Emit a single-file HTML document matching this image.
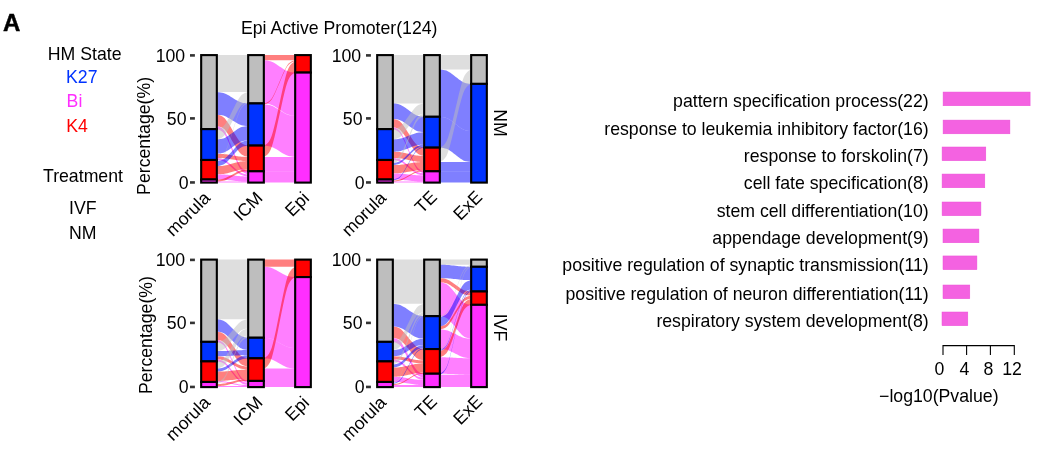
<!DOCTYPE html>
<html><head><meta charset="utf-8"><style>
html,body{margin:0;padding:0;background:#fff;width:1055px;height:449px;overflow:hidden}
svg{display:block;will-change:transform}
text{font-family:"Liberation Sans", sans-serif;fill:#000}
</style></head><body>
<svg width="1055" height="449" viewBox="0 0 1055 449">

<text x="2.9" y="30.6" font-size="24" font-weight="bold" style="stroke:#000;stroke-width:0.45">A</text>
<text x="339.2" y="33.7" text-anchor="middle" font-size="17.7">Epi Active Promoter(124)</text>
<text x="47.8" y="60.2" font-size="17.7">HM State</text>
<text x="66" y="82.5" font-size="17.7" style="fill:#0033ff">K27</text>
<text x="66.6" y="107" font-size="17.7" style="fill:#ff2eff">Bi</text>
<text x="66.2" y="132.3" font-size="17.7" style="fill:#ff0000">K4</text>
<text x="43" y="181.8" font-size="17.7">Treatment</text>
<text x="69" y="213.6" font-size="17.7">IVF</text>
<text x="69" y="238.8" font-size="17.7">NM</text>

<path d="M216.8,55.1L216.9,55.1L217.6,55.1L218.9,55.1L220.5,55.1L222.0,55.1L223.4,55.1L224.7,55.1L226.0,55.1L227.4,55.1L229.0,55.1L230.7,55.1L232.5,55.1L234.3,55.1L236.0,55.1L237.6,55.1L239.0,55.1L240.3,55.1L241.6,55.1L243.0,55.1L244.5,55.1L246.1,55.1L247.4,55.1L248.1,55.1L248.2,55.1L248.2,92.1L248.1,92.1L247.4,92.1L246.1,92.1L244.5,92.1L243.0,92.1L241.6,92.1L240.3,92.1L239.0,92.1L237.6,92.1L236.0,92.1L234.3,92.1L232.5,92.1L230.7,92.1L229.0,92.1L227.4,92.1L226.0,92.1L224.7,92.1L223.4,92.1L222.0,92.1L220.5,92.1L218.9,92.1L217.6,92.1L216.9,92.1L216.8,92.1Z" fill="#bebebe" fill-opacity="0.5"/>
<path d="M216.8,92.1L216.9,92.1L217.6,92.2L218.9,92.3L220.5,92.4L222.0,92.7L223.4,93.0L224.7,93.4L226.0,94.0L227.4,94.7L229.0,95.6L230.7,96.7L232.5,97.8L234.3,98.9L236.0,99.9L237.6,100.8L239.0,101.5L240.3,102.1L241.6,102.5L243.0,102.9L244.5,103.1L246.1,103.3L247.4,103.4L248.1,103.4L248.2,103.4L248.2,126.0L248.1,126.0L247.4,126.0L246.1,125.9L244.5,125.7L243.0,125.5L241.6,125.2L240.3,124.7L239.0,124.2L237.6,123.4L236.0,122.5L234.3,121.5L232.5,120.4L230.7,119.3L229.0,118.2L227.4,117.4L226.0,116.6L224.7,116.1L223.4,115.6L222.0,115.3L220.5,115.1L218.9,114.9L217.6,114.8L216.9,114.7L216.8,114.7Z" fill="#0000ff" fill-opacity="0.5"/>
<path d="M216.8,114.7L216.9,114.8L217.6,114.9L218.9,115.1L220.5,115.6L222.0,116.3L223.4,117.2L224.7,118.3L226.0,119.9L227.4,121.9L229.0,124.3L230.7,127.1L232.5,130.2L234.3,133.2L236.0,136.0L237.6,138.5L239.0,140.4L240.3,142.0L241.6,143.2L243.0,144.0L244.5,144.7L246.1,145.2L247.4,145.5L248.1,145.6L248.2,145.6L248.2,156.9L248.1,156.9L247.4,156.8L246.1,156.5L244.5,156.0L243.0,155.3L241.6,154.5L240.3,153.3L239.0,151.8L237.6,149.8L236.0,147.3L234.3,144.5L232.5,141.5L230.7,138.4L229.0,135.6L227.4,133.2L226.0,131.2L224.7,129.6L223.4,128.5L222.0,127.6L220.5,126.9L218.9,126.5L217.6,126.2L216.9,126.1L216.8,126.0Z" fill="#ff0000" fill-opacity="0.5"/>
<path d="M216.8,126.0L216.9,126.1L217.6,126.2L218.9,126.6L220.5,127.3L222.0,128.3L223.4,129.6L224.7,131.3L226.0,133.6L227.4,136.5L229.0,140.1L230.7,144.2L232.5,148.7L234.3,153.1L236.0,157.3L237.6,160.8L239.0,163.7L240.3,166.0L241.6,167.7L243.0,169.0L244.5,170.0L246.1,170.7L247.4,171.1L248.1,171.3L248.2,171.3L248.2,174.4L248.1,174.4L247.4,174.2L246.1,173.8L244.5,173.1L243.0,172.1L241.6,170.8L240.3,169.1L239.0,166.8L237.6,163.9L236.0,160.3L234.3,156.2L232.5,151.8L230.7,147.3L229.0,143.2L227.4,139.6L226.0,136.7L224.7,134.4L223.4,132.7L222.0,131.4L220.5,130.4L218.9,129.7L217.6,129.3L216.9,129.2L216.8,129.1Z" fill="#ff00ff" fill-opacity="0.5"/>
<path d="M216.8,129.1L216.9,129.1L217.6,129.0L218.9,128.6L220.5,128.1L222.0,127.3L223.4,126.2L224.7,124.8L226.0,123.0L227.4,120.6L229.0,117.7L230.7,114.3L232.5,110.6L234.3,107.0L236.0,103.6L237.6,100.7L239.0,98.3L240.3,96.4L241.6,95.0L243.0,94.0L244.5,93.2L246.1,92.6L247.4,92.3L248.1,92.1L248.2,92.1L248.2,102.4L248.1,102.4L247.4,102.6L246.1,102.9L244.5,103.5L243.0,104.3L241.6,105.3L240.3,106.7L239.0,108.6L237.6,111.0L236.0,113.9L234.3,117.3L232.5,120.9L230.7,124.6L229.0,127.9L227.4,130.9L226.0,133.2L224.7,135.1L223.4,136.5L222.0,137.6L220.5,138.4L218.9,138.9L217.6,139.3L216.9,139.4L216.8,139.4Z" fill="#bebebe" fill-opacity="0.5"/>
<path d="M216.8,139.4L216.9,139.4L217.6,139.4L218.9,139.2L220.5,139.0L222.0,138.7L223.4,138.4L224.7,137.9L226.0,137.2L227.4,136.3L229.0,135.3L230.7,134.0L232.5,132.7L234.3,131.4L236.0,130.2L237.6,129.1L239.0,128.3L240.3,127.6L241.6,127.1L243.0,126.7L244.5,126.4L246.1,126.2L247.4,126.1L248.1,126.1L248.2,126.0L248.2,140.4L248.1,140.4L247.4,140.5L246.1,140.6L244.5,140.8L243.0,141.1L241.6,141.5L240.3,142.0L239.0,142.7L237.6,143.5L236.0,144.6L234.3,145.8L232.5,147.1L230.7,148.4L229.0,149.7L227.4,150.7L226.0,151.6L224.7,152.3L223.4,152.8L222.0,153.1L220.5,153.4L218.9,153.6L217.6,153.8L216.9,153.8L216.8,153.8Z" fill="#0000ff" fill-opacity="0.5"/>
<path d="M216.8,153.8L216.9,153.8L217.6,153.8L218.9,153.9L220.5,153.9L222.0,154.0L223.4,154.1L224.7,154.2L226.0,154.3L227.4,154.5L229.0,154.8L230.7,155.0L232.5,155.4L234.3,155.7L236.0,155.9L237.6,156.2L239.0,156.4L240.3,156.5L241.6,156.7L243.0,156.7L244.5,156.8L246.1,156.9L247.4,156.9L248.1,156.9L248.2,156.9L248.2,161.0L248.1,161.0L247.4,161.0L246.1,161.0L244.5,160.9L243.0,160.9L241.6,160.8L240.3,160.6L239.0,160.5L237.6,160.3L236.0,160.1L234.3,159.8L232.5,159.5L230.7,159.2L229.0,158.9L227.4,158.6L226.0,158.4L224.7,158.3L223.4,158.2L222.0,158.1L220.5,158.0L218.9,158.0L217.6,157.9L216.9,157.9L216.8,157.9Z" fill="#ff0000" fill-opacity="0.5"/>
<path d="M216.8,157.9L216.9,157.9L217.6,158.0L218.9,158.1L220.5,158.4L222.0,158.7L223.4,159.2L224.7,159.8L226.0,160.7L227.4,161.7L229.0,163.0L230.7,164.5L232.5,166.1L234.3,167.8L236.0,169.3L237.6,170.6L239.0,171.6L240.3,172.5L241.6,173.1L243.0,173.5L244.5,173.9L246.1,174.2L247.4,174.3L248.1,174.4L248.2,174.4L248.2,176.4L248.1,176.4L247.4,176.4L246.1,176.2L244.5,176.0L243.0,175.6L241.6,175.1L240.3,174.5L239.0,173.7L237.6,172.6L236.0,171.3L234.3,169.8L232.5,168.2L230.7,166.6L229.0,165.1L227.4,163.8L226.0,162.7L224.7,161.9L223.4,161.3L222.0,160.8L220.5,160.5L218.9,160.2L217.6,160.0L216.9,160.0L216.8,160.0Z" fill="#ff00ff" fill-opacity="0.5"/>
<path d="M216.8,160.0L216.9,159.9L217.6,159.7L218.9,159.2L220.5,158.3L222.0,157.1L223.4,155.5L224.7,153.3L226.0,150.4L227.4,146.7L229.0,142.1L230.7,136.9L232.5,131.2L234.3,125.5L236.0,120.3L237.6,115.7L239.0,112.0L240.3,109.1L241.6,106.9L243.0,105.3L244.5,104.1L246.1,103.2L247.4,102.6L248.1,102.4L248.2,102.4L248.2,103.4L248.1,103.5L247.4,103.7L246.1,104.2L244.5,105.1L243.0,106.3L241.6,108.0L240.3,110.1L239.0,113.0L237.6,116.7L236.0,121.3L234.3,126.5L232.5,132.2L230.7,137.9L229.0,143.2L227.4,147.7L226.0,151.4L224.7,154.3L223.4,156.5L222.0,158.1L220.5,159.4L218.9,160.2L217.6,160.8L216.9,161.0L216.8,161.0Z" fill="#bebebe" fill-opacity="0.5"/>
<path d="M216.8,161.0L216.9,161.0L217.6,160.9L218.9,160.7L220.5,160.4L222.0,160.0L223.4,159.4L224.7,158.6L226.0,157.6L227.4,156.3L229.0,154.6L230.7,152.8L232.5,150.7L234.3,148.7L236.0,146.8L237.6,145.2L239.0,143.9L240.3,142.8L241.6,142.1L243.0,141.5L244.5,141.0L246.1,140.7L247.4,140.5L248.1,140.5L248.2,140.4L248.2,145.6L248.1,145.6L247.4,145.7L246.1,145.9L244.5,146.2L243.0,146.6L241.6,147.2L240.3,148.0L239.0,149.0L237.6,150.3L236.0,152.0L234.3,153.8L232.5,155.9L230.7,157.9L229.0,159.8L227.4,161.4L226.0,162.7L224.7,163.8L223.4,164.5L222.0,165.1L220.5,165.6L218.9,165.9L217.6,166.1L216.9,166.1L216.8,166.1Z" fill="#0000ff" fill-opacity="0.5"/>
<path d="M216.8,166.1L216.9,166.1L217.6,166.1L218.9,166.1L220.5,166.0L222.0,165.9L223.4,165.7L224.7,165.6L226.0,165.3L227.4,165.0L229.0,164.6L230.7,164.1L232.5,163.6L234.3,163.1L236.0,162.6L237.6,162.2L239.0,161.9L240.3,161.6L241.6,161.4L243.0,161.3L244.5,161.2L246.1,161.1L247.4,161.0L248.1,161.0L248.2,161.0L248.2,169.2L248.1,169.2L247.4,169.3L246.1,169.3L244.5,169.4L243.0,169.5L241.6,169.6L240.3,169.8L239.0,170.1L237.6,170.4L236.0,170.8L234.3,171.3L232.5,171.8L230.7,172.3L229.0,172.8L227.4,173.2L226.0,173.5L224.7,173.8L223.4,174.0L222.0,174.1L220.5,174.2L218.9,174.3L217.6,174.4L216.9,174.4L216.8,174.4Z" fill="#ff0000" fill-opacity="0.5"/>
<path d="M216.8,174.4L216.9,174.4L217.6,174.4L218.9,174.4L220.5,174.4L222.0,174.5L223.4,174.5L224.7,174.6L226.0,174.7L227.4,174.8L229.0,175.0L230.7,175.2L232.5,175.4L234.3,175.6L236.0,175.8L237.6,176.0L239.0,176.1L240.3,176.2L241.6,176.3L243.0,176.3L244.5,176.4L246.1,176.4L247.4,176.4L248.1,176.4L248.2,176.4L248.2,181.6L248.1,181.6L247.4,181.6L246.1,181.5L244.5,181.5L243.0,181.5L241.6,181.4L240.3,181.3L239.0,181.2L237.6,181.1L236.0,180.9L234.3,180.7L232.5,180.5L230.7,180.3L229.0,180.2L227.4,180.0L226.0,179.9L224.7,179.8L223.4,179.7L222.0,179.6L220.5,179.6L218.9,179.5L217.6,179.5L216.9,179.5L216.8,179.5Z" fill="#ff00ff" fill-opacity="0.5"/>
<path d="M216.8,179.5L216.9,179.5L217.6,179.5L218.9,179.4L220.5,179.2L222.0,179.0L223.4,178.7L224.7,178.3L226.0,177.8L227.4,177.1L229.0,176.3L230.7,175.4L232.5,174.4L234.3,173.4L236.0,172.4L237.6,171.6L239.0,170.9L240.3,170.4L241.6,170.0L243.0,169.7L244.5,169.5L246.1,169.4L247.4,169.3L248.1,169.2L248.2,169.2L248.2,171.3L248.1,171.3L247.4,171.3L246.1,171.4L244.5,171.6L243.0,171.8L241.6,172.1L240.3,172.5L239.0,173.0L237.6,173.7L236.0,174.5L234.3,175.4L232.5,176.4L230.7,177.4L229.0,178.4L227.4,179.2L226.0,179.9L224.7,180.4L223.4,180.8L222.0,181.1L220.5,181.3L218.9,181.4L217.6,181.5L216.9,181.6L216.8,181.6Z" fill="#ff0000" fill-opacity="0.5"/>
<path d="M216.8,181.6L216.9,181.6L217.6,181.6L218.9,181.6L220.5,181.6L222.0,181.6L223.4,181.6L224.7,181.6L226.0,181.6L227.4,181.6L229.0,181.6L230.7,181.6L232.5,181.6L234.3,181.6L236.0,181.6L237.6,181.6L239.0,181.6L240.3,181.6L241.6,181.6L243.0,181.6L244.5,181.6L246.1,181.6L247.4,181.6L248.1,181.6L248.2,181.6L248.2,182.6L248.1,182.6L247.4,182.6L246.1,182.6L244.5,182.6L243.0,182.6L241.6,182.6L240.3,182.6L239.0,182.6L237.6,182.6L236.0,182.6L234.3,182.6L232.5,182.6L230.7,182.6L229.0,182.6L227.4,182.6L226.0,182.6L224.7,182.6L223.4,182.6L222.0,182.6L220.5,182.6L218.9,182.6L217.6,182.6L216.9,182.6L216.8,182.6Z" fill="#ff00ff" fill-opacity="0.5"/>
<path d="M263.8,55.1L263.9,55.1L264.6,55.1L265.9,55.1L267.5,55.1L269.0,55.1L270.4,55.1L271.7,55.1L273.0,55.1L274.4,55.1L276.0,55.1L277.7,55.1L279.5,55.1L281.3,55.1L283.0,55.1L284.6,55.1L286.0,55.1L287.3,55.1L288.6,55.1L290.0,55.1L291.5,55.1L293.1,55.1L294.4,55.1L295.1,55.1L295.2,55.1L295.2,60.2L295.1,60.2L294.4,60.2L293.1,60.2L291.5,60.2L290.0,60.2L288.6,60.2L287.3,60.2L286.0,60.2L284.6,60.2L283.0,60.2L281.3,60.2L279.5,60.2L277.7,60.2L276.0,60.2L274.4,60.2L273.0,60.2L271.7,60.2L270.4,60.2L269.0,60.2L267.5,60.2L265.9,60.2L264.6,60.2L263.9,60.2L263.8,60.2Z" fill="#ff0000" fill-opacity="0.5"/>
<path d="M263.8,60.2L263.9,60.2L264.6,60.3L265.9,60.4L267.5,60.6L269.0,60.9L270.4,61.2L271.7,61.7L273.0,62.3L274.4,63.1L276.0,64.1L277.7,65.2L279.5,66.4L281.3,67.6L283.0,68.8L284.6,69.7L286.0,70.5L287.3,71.1L288.6,71.6L290.0,72.0L291.5,72.2L293.1,72.4L294.4,72.5L295.1,72.6L295.2,72.6L295.2,115.8L295.1,115.8L294.4,115.7L293.1,115.6L291.5,115.4L290.0,115.1L288.6,114.8L287.3,114.3L286.0,113.7L284.6,112.9L283.0,111.9L281.3,110.8L279.5,109.6L277.7,108.4L276.0,107.3L274.4,106.3L273.0,105.5L271.7,104.9L270.4,104.4L269.0,104.0L267.5,103.8L265.9,103.6L264.6,103.5L263.9,103.4L263.8,103.4Z" fill="#ff00ff" fill-opacity="0.5"/>
<path d="M263.8,103.4L263.9,103.4L264.6,103.2L265.9,102.9L267.5,102.2L269.0,101.3L270.4,100.0L271.7,98.4L273.0,96.2L274.4,93.4L276.0,90.0L277.7,86.1L279.5,81.8L281.3,77.6L283.0,73.6L284.6,70.2L286.0,67.4L287.3,65.3L288.6,63.6L290.0,62.4L291.5,61.5L293.1,60.8L294.4,60.4L295.1,60.3L295.2,60.2L295.2,61.3L295.1,61.3L294.4,61.4L293.1,61.8L291.5,62.5L290.0,63.4L288.6,64.7L287.3,66.3L286.0,68.5L284.6,71.3L283.0,74.7L281.3,78.6L279.5,82.9L277.7,87.1L276.0,91.1L274.4,94.5L273.0,97.3L271.7,99.4L270.4,101.1L269.0,102.3L267.5,103.2L265.9,103.9L264.6,104.3L263.9,104.4L263.8,104.5Z" fill="#ff0000" fill-opacity="0.5"/>
<path d="M263.8,104.5L263.9,104.5L264.6,104.5L265.9,104.6L267.5,104.8L269.0,105.0L270.4,105.3L271.7,105.8L273.0,106.3L274.4,107.1L276.0,108.0L277.7,109.0L279.5,110.1L281.3,111.2L283.0,112.3L284.6,113.2L286.0,113.9L287.3,114.4L288.6,114.9L290.0,115.2L291.5,115.4L293.1,115.6L294.4,115.7L295.1,115.8L295.2,115.8L295.2,156.9L295.1,156.9L294.4,156.8L293.1,156.7L291.5,156.6L290.0,156.3L288.6,156.0L287.3,155.6L286.0,155.0L284.6,154.3L283.0,153.4L281.3,152.4L279.5,151.2L277.7,150.1L276.0,149.1L274.4,148.2L273.0,147.5L271.7,146.9L270.4,146.5L269.0,146.2L267.5,145.9L265.9,145.7L264.6,145.6L263.9,145.6L263.8,145.6Z" fill="#ff00ff" fill-opacity="0.5"/>
<path d="M263.8,145.6L263.9,145.5L264.6,145.2L265.9,144.5L267.5,143.2L269.0,141.4L270.4,139.0L271.7,135.8L273.0,131.5L274.4,126.1L276.0,119.4L277.7,111.7L279.5,103.4L281.3,95.1L283.0,87.4L284.6,80.8L286.0,75.3L287.3,71.1L288.6,67.9L290.0,65.5L291.5,63.7L293.1,62.4L294.4,61.6L295.1,61.3L295.2,61.3L295.2,72.6L295.1,72.6L294.4,72.9L293.1,73.7L291.5,75.0L290.0,76.8L288.6,79.2L287.3,82.4L286.0,86.6L284.6,92.1L283.0,98.7L281.3,106.4L279.5,114.7L277.7,123.0L276.0,130.7L274.4,137.4L273.0,142.8L271.7,147.1L270.4,150.3L269.0,152.7L267.5,154.5L265.9,155.8L264.6,156.5L263.9,156.9L263.8,156.9Z" fill="#ff0000" fill-opacity="0.5"/>
<path d="M263.8,156.9L263.9,156.9L264.6,156.9L265.9,156.9L267.5,156.9L269.0,156.9L270.4,156.9L271.7,156.9L273.0,156.9L274.4,156.9L276.0,156.9L277.7,156.9L279.5,156.9L281.3,156.9L283.0,156.9L284.6,156.9L286.0,156.9L287.3,156.9L288.6,156.9L290.0,156.9L291.5,156.9L293.1,156.9L294.4,156.9L295.1,156.9L295.2,156.9L295.2,171.3L295.1,171.3L294.4,171.3L293.1,171.3L291.5,171.3L290.0,171.3L288.6,171.3L287.3,171.3L286.0,171.3L284.6,171.3L283.0,171.3L281.3,171.3L279.5,171.3L277.7,171.3L276.0,171.3L274.4,171.3L273.0,171.3L271.7,171.3L270.4,171.3L269.0,171.3L267.5,171.3L265.9,171.3L264.6,171.3L263.9,171.3L263.8,171.3Z" fill="#ff00ff" fill-opacity="0.5"/>
<path d="M263.8,171.3L263.9,171.3L264.6,171.3L265.9,171.3L267.5,171.3L269.0,171.3L270.4,171.3L271.7,171.3L273.0,171.3L274.4,171.3L276.0,171.3L277.7,171.3L279.5,171.3L281.3,171.3L283.0,171.3L284.6,171.3L286.0,171.3L287.3,171.3L288.6,171.3L290.0,171.3L291.5,171.3L293.1,171.3L294.4,171.3L295.1,171.3L295.2,171.3L295.2,182.6L295.1,182.6L294.4,182.6L293.1,182.6L291.5,182.6L290.0,182.6L288.6,182.6L287.3,182.6L286.0,182.6L284.6,182.6L283.0,182.6L281.3,182.6L279.5,182.6L277.7,182.6L276.0,182.6L274.4,182.6L273.0,182.6L271.7,182.6L270.4,182.6L269.0,182.6L267.5,182.6L265.9,182.6L264.6,182.6L263.9,182.6L263.8,182.6Z" fill="#ff00ff" fill-opacity="0.5"/>
<rect x="201.17" y="55.10" width="15.66" height="74.03" fill="#bebebe" stroke="#000" stroke-width="2.1"/>
<rect x="201.17" y="129.13" width="15.66" height="30.85" fill="#0033ff" stroke="#000" stroke-width="2.1"/>
<rect x="201.17" y="159.98" width="15.66" height="19.54" fill="#ff0000" stroke="#000" stroke-width="2.1"/>
<rect x="201.17" y="179.52" width="15.66" height="3.08" fill="#ff2eff" stroke="#000" stroke-width="2.1"/>
<rect x="248.17" y="55.10" width="15.66" height="48.33" fill="#bebebe" stroke="#000" stroke-width="2.1"/>
<rect x="248.17" y="103.43" width="15.66" height="42.16" fill="#0033ff" stroke="#000" stroke-width="2.1"/>
<rect x="248.17" y="145.58" width="15.66" height="25.71" fill="#ff0000" stroke="#000" stroke-width="2.1"/>
<rect x="248.17" y="171.29" width="15.66" height="11.31" fill="#ff2eff" stroke="#000" stroke-width="2.1"/>
<rect x="295.17" y="55.10" width="15.66" height="17.48" fill="#ff0000" stroke="#000" stroke-width="2.1"/>
<rect x="295.17" y="72.58" width="15.66" height="110.02" fill="#ff2eff" stroke="#000" stroke-width="2.1"/>
<line x1="190.0" x2="194.9" y1="55.40" y2="55.40" stroke="#333" stroke-width="2.6"/>
<text x="185.2" y="61.70" text-anchor="end" font-size="17.7">100</text>
<line x1="190.0" x2="194.9" y1="118.40" y2="118.40" stroke="#333" stroke-width="2.6"/>
<text x="186.5" y="124.70" text-anchor="end" font-size="17.7">50</text>
<line x1="190.0" x2="194.9" y1="182.45" y2="182.45" stroke="#333" stroke-width="2.6"/>
<text x="188.5" y="188.75" text-anchor="end" font-size="17.7">0</text>
<text transform="translate(150,135.9) rotate(-90)" text-anchor="middle" font-size="17.7">Percentage(%)</text>
<text transform="translate(202.20,190.00) rotate(-45)" text-anchor="end" font-size="17.7" dy="0.72em">morula</text>
<text transform="translate(254.60,190.00) rotate(-45)" text-anchor="end" font-size="17.7" dy="0.72em">ICM</text>
<text transform="translate(301.30,190.30) rotate(-45)" text-anchor="end" font-size="17.7" dy="0.72em">Epi</text>
<path d="M392.8,55.1L392.9,55.1L393.6,55.1L394.9,55.1L396.5,55.1L398.0,55.1L399.4,55.1L400.7,55.1L402.0,55.1L403.4,55.1L405.0,55.1L406.7,55.1L408.5,55.1L410.3,55.1L412.0,55.1L413.6,55.1L415.0,55.1L416.3,55.1L417.6,55.1L419.0,55.1L420.5,55.1L422.1,55.1L423.4,55.1L424.1,55.1L424.2,55.1L424.2,103.4L424.1,103.4L423.4,103.4L422.1,103.4L420.5,103.4L419.0,103.4L417.6,103.4L416.3,103.4L415.0,103.4L413.6,103.4L412.0,103.4L410.3,103.4L408.5,103.4L406.7,103.4L405.0,103.4L403.4,103.4L402.0,103.4L400.7,103.4L399.4,103.4L398.0,103.4L396.5,103.4L394.9,103.4L393.6,103.4L392.9,103.4L392.8,103.4Z" fill="#bebebe" fill-opacity="0.5"/>
<path d="M392.8,103.4L392.9,103.4L393.6,103.5L394.9,103.6L396.5,103.8L398.0,104.1L399.4,104.5L400.7,105.0L402.0,105.7L403.4,106.5L405.0,107.6L406.7,108.8L408.5,110.1L410.3,111.4L412.0,112.6L413.6,113.7L415.0,114.6L416.3,115.2L417.6,115.7L419.0,116.1L420.5,116.4L422.1,116.6L423.4,116.7L424.1,116.8L424.2,116.8L424.2,132.2L424.1,132.2L423.4,132.2L422.1,132.0L420.5,131.8L419.0,131.5L417.6,131.2L416.3,130.7L415.0,130.0L413.6,129.1L412.0,128.1L410.3,126.9L408.5,125.5L406.7,124.2L405.0,123.0L403.4,121.9L402.0,121.1L400.7,120.4L399.4,119.9L398.0,119.5L396.5,119.2L394.9,119.0L393.6,118.9L392.9,118.9L392.8,118.9Z" fill="#0000ff" fill-opacity="0.5"/>
<path d="M392.8,118.9L392.9,118.9L393.6,119.0L394.9,119.2L396.5,119.7L398.0,120.3L399.4,121.1L400.7,122.2L402.0,123.6L403.4,125.5L405.0,127.8L406.7,130.4L408.5,133.2L410.3,136.1L412.0,138.7L413.6,141.0L415.0,142.8L416.3,144.3L417.6,145.4L419.0,146.2L420.5,146.8L422.1,147.3L423.4,147.5L424.1,147.6L424.2,147.6L424.2,155.9L424.1,155.9L423.4,155.7L422.1,155.5L420.5,155.0L419.0,154.4L417.6,153.6L416.3,152.5L415.0,151.1L413.6,149.2L412.0,146.9L410.3,144.3L408.5,141.5L406.7,138.6L405.0,136.0L403.4,133.7L402.0,131.9L400.7,130.4L399.4,129.3L398.0,128.5L396.5,127.9L394.9,127.5L393.6,127.2L392.9,127.1L392.8,127.1Z" fill="#ff0000" fill-opacity="0.5"/>
<path d="M392.8,127.1L392.9,127.1L393.6,127.3L394.9,127.7L396.5,128.3L398.0,129.3L399.4,130.6L400.7,132.2L402.0,134.4L403.4,137.3L405.0,140.8L406.7,144.8L408.5,149.2L410.3,153.5L412.0,157.6L413.6,161.1L415.0,163.9L416.3,166.1L417.6,167.8L419.0,169.1L420.5,170.0L422.1,170.7L423.4,171.1L424.1,171.3L424.2,171.3L424.2,173.3L424.1,173.3L423.4,173.2L422.1,172.8L420.5,172.1L419.0,171.1L417.6,169.9L416.3,168.2L415.0,166.0L413.6,163.1L412.0,159.6L410.3,155.6L408.5,151.2L406.7,146.9L405.0,142.8L403.4,139.4L402.0,136.5L400.7,134.3L399.4,132.6L398.0,131.4L396.5,130.4L394.9,129.7L393.6,129.3L392.9,129.2L392.8,129.1Z" fill="#ff00ff" fill-opacity="0.5"/>
<path d="M392.8,129.1L392.9,129.1L393.6,129.0L394.9,128.8L396.5,128.4L398.0,127.8L399.4,127.1L400.7,126.1L402.0,124.8L403.4,123.2L405.0,121.2L406.7,118.8L408.5,116.3L410.3,113.7L412.0,111.4L413.6,109.4L415.0,107.7L416.3,106.4L417.6,105.4L419.0,104.7L420.5,104.2L422.1,103.8L423.4,103.5L424.1,103.4L424.2,103.4L424.2,113.7L424.1,113.7L423.4,113.8L422.1,114.1L420.5,114.4L419.0,115.0L417.6,115.7L416.3,116.7L415.0,118.0L413.6,119.7L412.0,121.7L410.3,124.0L408.5,126.6L406.7,129.1L405.0,131.4L403.4,133.5L402.0,135.1L400.7,136.4L399.4,137.4L398.0,138.1L396.5,138.7L394.9,139.1L393.6,139.3L392.9,139.4L392.8,139.4Z" fill="#bebebe" fill-opacity="0.5"/>
<path d="M392.8,139.4L392.9,139.4L393.6,139.4L394.9,139.3L396.5,139.2L398.0,139.1L399.4,138.8L400.7,138.6L402.0,138.2L403.4,137.8L405.0,137.2L406.7,136.5L408.5,135.8L410.3,135.1L412.0,134.4L413.6,133.9L415.0,133.4L416.3,133.1L417.6,132.8L419.0,132.6L420.5,132.4L422.1,132.3L423.4,132.2L424.1,132.2L424.2,132.2L424.2,144.6L424.1,144.6L423.4,144.6L422.1,144.7L420.5,144.8L419.0,144.9L417.6,145.1L416.3,145.4L415.0,145.8L413.6,146.2L412.0,146.8L410.3,147.4L408.5,148.2L406.7,148.9L405.0,149.5L403.4,150.1L402.0,150.6L400.7,150.9L399.4,151.2L398.0,151.4L396.5,151.5L394.9,151.7L393.6,151.7L392.9,151.7L392.8,151.8Z" fill="#0000ff" fill-opacity="0.5"/>
<path d="M392.8,151.8L392.9,151.8L393.6,151.8L394.9,151.8L396.5,151.9L398.0,152.0L399.4,152.1L400.7,152.2L402.0,152.4L403.4,152.7L405.0,153.0L406.7,153.4L408.5,153.8L410.3,154.2L412.0,154.6L413.6,154.9L415.0,155.2L416.3,155.4L417.6,155.5L419.0,155.7L420.5,155.7L422.1,155.8L423.4,155.8L424.1,155.9L424.2,155.9L424.2,162.0L424.1,162.0L423.4,162.0L422.1,162.0L420.5,161.9L419.0,161.8L417.6,161.7L416.3,161.6L415.0,161.3L413.6,161.1L412.0,160.8L410.3,160.4L408.5,160.0L406.7,159.6L405.0,159.2L403.4,158.9L402.0,158.6L400.7,158.4L399.4,158.2L398.0,158.1L396.5,158.0L394.9,158.0L393.6,157.9L392.9,157.9L392.8,157.9Z" fill="#ff0000" fill-opacity="0.5"/>
<path d="M392.8,157.9L392.9,157.9L393.6,158.0L394.9,158.1L396.5,158.4L398.0,158.7L399.4,159.1L400.7,159.7L402.0,160.5L403.4,161.5L405.0,162.7L406.7,164.1L408.5,165.6L410.3,167.2L412.0,168.6L413.6,169.8L415.0,170.8L416.3,171.6L417.6,172.1L419.0,172.6L420.5,172.9L422.1,173.1L423.4,173.3L424.1,173.3L424.2,173.3L424.2,175.4L424.1,175.4L423.4,175.3L422.1,175.2L420.5,175.0L419.0,174.6L417.6,174.2L416.3,173.6L415.0,172.8L413.6,171.8L412.0,170.6L410.3,169.2L408.5,167.7L406.7,166.2L405.0,164.8L403.4,163.5L402.0,162.5L400.7,161.8L399.4,161.2L398.0,160.8L396.5,160.4L394.9,160.2L393.6,160.0L392.9,160.0L392.8,160.0Z" fill="#ff00ff" fill-opacity="0.5"/>
<path d="M392.8,160.0L392.9,160.0L393.6,159.8L394.9,159.4L396.5,158.7L398.0,157.7L399.4,156.3L400.7,154.6L402.0,152.3L403.4,149.3L405.0,145.6L406.7,141.4L408.5,136.8L410.3,132.3L412.0,128.1L413.6,124.4L415.0,121.4L416.3,119.1L417.6,117.3L419.0,116.0L420.5,115.0L422.1,114.3L423.4,113.9L424.1,113.7L424.2,113.7L424.2,116.8L424.1,116.8L423.4,117.0L422.1,117.4L420.5,118.1L419.0,119.1L417.6,120.4L416.3,122.2L415.0,124.5L413.6,127.5L412.0,131.1L410.3,135.4L408.5,139.9L406.7,144.5L405.0,148.7L403.4,152.4L402.0,155.4L400.7,157.7L399.4,159.4L398.0,160.7L396.5,161.7L394.9,162.4L393.6,162.9L392.9,163.0L392.8,163.1Z" fill="#bebebe" fill-opacity="0.5"/>
<path d="M392.8,163.1L392.9,163.1L393.6,163.0L394.9,162.8L396.5,162.5L398.0,162.1L399.4,161.6L400.7,160.9L402.0,160.0L403.4,158.8L405.0,157.3L406.7,155.6L408.5,153.8L410.3,152.0L412.0,150.3L413.6,148.8L415.0,147.6L416.3,146.7L417.6,146.0L419.0,145.5L420.5,145.1L422.1,144.8L423.4,144.6L424.1,144.6L424.2,144.6L424.2,146.6L424.1,146.6L423.4,146.7L422.1,146.9L420.5,147.1L419.0,147.5L417.6,148.1L416.3,148.8L415.0,149.7L413.6,150.9L412.0,152.4L410.3,154.0L408.5,155.9L406.7,157.7L405.0,159.4L403.4,160.8L402.0,162.0L400.7,163.0L399.4,163.7L398.0,164.2L396.5,164.6L394.9,164.9L393.6,165.0L392.9,165.1L392.8,165.1Z" fill="#0000ff" fill-opacity="0.5"/>
<path d="M392.8,165.1L392.9,165.1L393.6,165.1L394.9,165.1L396.5,165.0L398.0,165.0L399.4,164.9L400.7,164.8L402.0,164.6L403.4,164.4L405.0,164.2L406.7,163.9L408.5,163.6L410.3,163.3L412.0,163.0L413.6,162.7L415.0,162.5L416.3,162.4L417.6,162.3L419.0,162.2L420.5,162.1L422.1,162.1L423.4,162.0L424.1,162.0L424.2,162.0L424.2,170.3L424.1,170.3L423.4,170.3L422.1,170.3L420.5,170.3L419.0,170.4L417.6,170.5L416.3,170.6L415.0,170.8L413.6,171.0L412.0,171.2L410.3,171.5L408.5,171.8L406.7,172.1L405.0,172.4L403.4,172.6L402.0,172.8L400.7,173.0L399.4,173.1L398.0,173.2L396.5,173.3L394.9,173.3L393.6,173.3L392.9,173.3L392.8,173.3Z" fill="#ff0000" fill-opacity="0.5"/>
<path d="M392.8,173.3L392.9,173.3L393.6,173.4L394.9,173.4L396.5,173.4L398.0,173.4L399.4,173.5L400.7,173.6L402.0,173.7L403.4,173.8L405.0,174.0L406.7,174.2L408.5,174.4L410.3,174.6L412.0,174.8L413.6,174.9L415.0,175.1L416.3,175.2L417.6,175.2L419.0,175.3L420.5,175.3L422.1,175.4L423.4,175.4L424.1,175.4L424.2,175.4L424.2,181.6L424.1,181.6L423.4,181.6L422.1,181.5L420.5,181.5L419.0,181.5L417.6,181.4L416.3,181.3L415.0,181.2L413.6,181.1L412.0,180.9L410.3,180.7L408.5,180.5L406.7,180.3L405.0,180.2L403.4,180.0L402.0,179.9L400.7,179.8L399.4,179.7L398.0,179.6L396.5,179.6L394.9,179.5L393.6,179.5L392.9,179.5L392.8,179.5Z" fill="#ff00ff" fill-opacity="0.5"/>
<path d="M392.8,179.5L392.9,179.5L393.6,179.4L394.9,179.1L396.5,178.6L398.0,177.9L399.4,176.9L400.7,175.7L402.0,174.0L403.4,171.9L405.0,169.3L406.7,166.3L408.5,163.1L410.3,159.8L412.0,156.8L413.6,154.2L415.0,152.1L416.3,150.4L417.6,149.2L419.0,148.3L420.5,147.6L422.1,147.1L423.4,146.7L424.1,146.6L424.2,146.6L424.2,147.6L424.1,147.7L423.4,147.8L422.1,148.1L420.5,148.6L419.0,149.3L417.6,150.2L416.3,151.5L415.0,153.1L413.6,155.2L412.0,157.8L410.3,160.8L408.5,164.1L406.7,167.3L405.0,170.3L403.4,172.9L402.0,175.1L400.7,176.7L399.4,178.0L398.0,178.9L396.5,179.6L394.9,180.1L393.6,180.4L392.9,180.5L392.8,180.5Z" fill="#0000ff" fill-opacity="0.5"/>
<path d="M392.8,180.5L392.9,180.5L393.6,180.5L394.9,180.4L396.5,180.2L398.0,180.0L399.4,179.7L400.7,179.3L402.0,178.8L403.4,178.2L405.0,177.4L406.7,176.4L408.5,175.4L410.3,174.4L412.0,173.4L413.6,172.6L415.0,172.0L416.3,171.5L417.6,171.1L419.0,170.8L420.5,170.6L422.1,170.4L423.4,170.3L424.1,170.3L424.2,170.3L424.2,171.3L424.1,171.3L423.4,171.3L422.1,171.4L420.5,171.6L419.0,171.8L417.6,172.1L416.3,172.5L415.0,173.0L413.6,173.7L412.0,174.5L410.3,175.4L408.5,176.4L406.7,177.4L405.0,178.4L403.4,179.2L402.0,179.9L400.7,180.4L399.4,180.8L398.0,181.1L396.5,181.3L394.9,181.4L393.6,181.5L392.9,181.6L392.8,181.6Z" fill="#ff0000" fill-opacity="0.5"/>
<path d="M392.8,181.6L392.9,181.6L393.6,181.6L394.9,181.6L396.5,181.6L398.0,181.6L399.4,181.6L400.7,181.6L402.0,181.6L403.4,181.6L405.0,181.6L406.7,181.6L408.5,181.6L410.3,181.6L412.0,181.6L413.6,181.6L415.0,181.6L416.3,181.6L417.6,181.6L419.0,181.6L420.5,181.6L422.1,181.6L423.4,181.6L424.1,181.6L424.2,181.6L424.2,182.6L424.1,182.6L423.4,182.6L422.1,182.6L420.5,182.6L419.0,182.6L417.6,182.6L416.3,182.6L415.0,182.6L413.6,182.6L412.0,182.6L410.3,182.6L408.5,182.6L406.7,182.6L405.0,182.6L403.4,182.6L402.0,182.6L400.7,182.6L399.4,182.6L398.0,182.6L396.5,182.6L394.9,182.6L393.6,182.6L392.9,182.6L392.8,182.6Z" fill="#ff00ff" fill-opacity="0.5"/>
<path d="M439.8,55.1L439.9,55.1L440.6,55.1L441.9,55.1L443.5,55.1L445.0,55.1L446.4,55.1L447.7,55.1L449.0,55.1L450.4,55.1L452.0,55.1L453.7,55.1L455.5,55.1L457.3,55.1L459.0,55.1L460.6,55.1L462.0,55.1L463.3,55.1L464.6,55.1L466.0,55.1L467.5,55.1L469.1,55.1L470.4,55.1L471.1,55.1L471.2,55.1L471.2,69.5L471.1,69.5L470.4,69.5L469.1,69.5L467.5,69.5L466.0,69.5L464.6,69.5L463.3,69.5L462.0,69.5L460.6,69.5L459.0,69.5L457.3,69.5L455.5,69.5L453.7,69.5L452.0,69.5L450.4,69.5L449.0,69.5L447.7,69.5L446.4,69.5L445.0,69.5L443.5,69.5L441.9,69.5L440.6,69.5L439.9,69.5L439.8,69.5Z" fill="#bebebe" fill-opacity="0.5"/>
<path d="M439.8,69.5L439.9,69.5L440.6,69.6L441.9,69.7L443.5,69.9L445.0,70.2L446.4,70.6L447.7,71.2L449.0,71.9L450.4,72.8L452.0,74.0L453.7,75.3L455.5,76.7L457.3,78.1L459.0,79.4L460.6,80.6L462.0,81.5L463.3,82.2L464.6,82.8L466.0,83.2L467.5,83.5L469.1,83.7L470.4,83.8L471.1,83.9L471.2,83.9L471.2,131.2L471.1,131.2L470.4,131.1L469.1,131.0L467.5,130.8L466.0,130.5L464.6,130.1L463.3,129.5L462.0,128.8L460.6,127.9L459.0,126.7L457.3,125.4L455.5,124.0L453.7,122.6L452.0,121.3L450.4,120.1L449.0,119.2L447.7,118.5L446.4,117.9L445.0,117.5L443.5,117.2L441.9,117.0L440.6,116.9L439.9,116.8L439.8,116.8Z" fill="#0000ff" fill-opacity="0.5"/>
<path d="M439.8,116.8L439.9,116.8L440.6,116.9L441.9,117.0L443.5,117.2L445.0,117.5L446.4,117.9L447.7,118.5L449.0,119.2L450.4,120.1L452.0,121.3L453.7,122.6L455.5,124.0L457.3,125.4L459.0,126.7L460.6,127.9L462.0,128.8L463.3,129.5L464.6,130.1L466.0,130.5L467.5,130.8L469.1,131.0L470.4,131.1L471.1,131.2L471.2,131.2L471.2,162.0L471.1,162.0L470.4,162.0L469.1,161.8L467.5,161.6L466.0,161.3L464.6,160.9L463.3,160.4L462.0,159.6L460.6,158.7L459.0,157.6L457.3,156.3L455.5,154.8L453.7,153.4L452.0,152.1L450.4,151.0L449.0,150.0L447.7,149.3L446.4,148.8L445.0,148.4L443.5,148.1L441.9,147.8L440.6,147.7L439.9,147.6L439.8,147.6Z" fill="#0000ff" fill-opacity="0.5"/>
<path d="M439.8,147.6L439.9,147.6L440.6,147.3L441.9,146.6L443.5,145.4L445.0,143.7L446.4,141.5L447.7,138.5L449.0,134.6L450.4,129.6L452.0,123.4L453.7,116.3L455.5,108.6L457.3,100.9L459.0,93.7L460.6,87.6L462.0,82.5L463.3,78.6L464.6,75.6L466.0,73.4L467.5,71.7L469.1,70.5L470.4,69.8L471.1,69.5L471.2,69.5L471.2,83.9L471.1,83.9L470.4,84.2L469.1,84.9L467.5,86.1L466.0,87.8L464.6,90.0L463.3,93.0L462.0,96.9L460.6,102.0L459.0,108.1L457.3,115.3L455.5,123.0L453.7,130.7L452.0,137.8L450.4,144.0L449.0,149.0L447.7,152.9L446.4,155.9L445.0,158.1L443.5,159.8L441.9,161.0L440.6,161.7L439.9,162.0L439.8,162.0Z" fill="#bebebe" fill-opacity="0.5"/>
<path d="M439.8,162.0L439.9,162.0L440.6,162.0L441.9,162.0L443.5,162.0L445.0,162.0L446.4,162.0L447.7,162.0L449.0,162.0L450.4,162.0L452.0,162.0L453.7,162.0L455.5,162.0L457.3,162.0L459.0,162.0L460.6,162.0L462.0,162.0L463.3,162.0L464.6,162.0L466.0,162.0L467.5,162.0L469.1,162.0L470.4,162.0L471.1,162.0L471.2,162.0L471.2,171.3L471.1,171.3L470.4,171.3L469.1,171.3L467.5,171.3L466.0,171.3L464.6,171.3L463.3,171.3L462.0,171.3L460.6,171.3L459.0,171.3L457.3,171.3L455.5,171.3L453.7,171.3L452.0,171.3L450.4,171.3L449.0,171.3L447.7,171.3L446.4,171.3L445.0,171.3L443.5,171.3L441.9,171.3L440.6,171.3L439.9,171.3L439.8,171.3Z" fill="#0000ff" fill-opacity="0.5"/>
<path d="M439.8,171.3L439.9,171.3L440.6,171.3L441.9,171.3L443.5,171.3L445.0,171.3L446.4,171.3L447.7,171.3L449.0,171.3L450.4,171.3L452.0,171.3L453.7,171.3L455.5,171.3L457.3,171.3L459.0,171.3L460.6,171.3L462.0,171.3L463.3,171.3L464.6,171.3L466.0,171.3L467.5,171.3L469.1,171.3L470.4,171.3L471.1,171.3L471.2,171.3L471.2,182.6L471.1,182.6L470.4,182.6L469.1,182.6L467.5,182.6L466.0,182.6L464.6,182.6L463.3,182.6L462.0,182.6L460.6,182.6L459.0,182.6L457.3,182.6L455.5,182.6L453.7,182.6L452.0,182.6L450.4,182.6L449.0,182.6L447.7,182.6L446.4,182.6L445.0,182.6L443.5,182.6L441.9,182.6L440.6,182.6L439.9,182.6L439.8,182.6Z" fill="#0000ff" fill-opacity="0.5"/>
<rect x="377.17" y="55.10" width="15.66" height="74.03" fill="#bebebe" stroke="#000" stroke-width="2.1"/>
<rect x="377.17" y="129.13" width="15.66" height="30.85" fill="#0033ff" stroke="#000" stroke-width="2.1"/>
<rect x="377.17" y="159.98" width="15.66" height="19.54" fill="#ff0000" stroke="#000" stroke-width="2.1"/>
<rect x="377.17" y="179.52" width="15.66" height="3.08" fill="#ff2eff" stroke="#000" stroke-width="2.1"/>
<rect x="424.17" y="55.10" width="15.66" height="61.69" fill="#bebebe" stroke="#000" stroke-width="2.1"/>
<rect x="424.17" y="116.79" width="15.66" height="30.85" fill="#0033ff" stroke="#000" stroke-width="2.1"/>
<rect x="424.17" y="147.64" width="15.66" height="23.65" fill="#ff0000" stroke="#000" stroke-width="2.1"/>
<rect x="424.17" y="171.29" width="15.66" height="11.31" fill="#ff2eff" stroke="#000" stroke-width="2.1"/>
<rect x="471.17" y="55.10" width="15.66" height="28.79" fill="#bebebe" stroke="#000" stroke-width="2.1"/>
<rect x="471.17" y="83.89" width="15.66" height="98.71" fill="#0033ff" stroke="#000" stroke-width="2.1"/>
<line x1="366.0" x2="370.9" y1="55.40" y2="55.40" stroke="#333" stroke-width="2.6"/>
<text x="361.2" y="61.70" text-anchor="end" font-size="17.7">100</text>
<line x1="366.0" x2="370.9" y1="118.40" y2="118.40" stroke="#333" stroke-width="2.6"/>
<text x="362.5" y="124.70" text-anchor="end" font-size="17.7">50</text>
<line x1="366.0" x2="370.9" y1="182.45" y2="182.45" stroke="#333" stroke-width="2.6"/>
<text x="364.5" y="188.75" text-anchor="end" font-size="17.7">0</text>
<text transform="translate(378.20,190.00) rotate(-45)" text-anchor="end" font-size="17.7" dy="0.72em">morula</text>
<text transform="translate(429.00,189.20) rotate(-45)" text-anchor="end" font-size="17.7" dy="0.72em">TE</text>
<text transform="translate(474.40,189.20) rotate(-45)" text-anchor="end" font-size="17.7" dy="0.72em">ExE</text>
<text transform="translate(500,123) rotate(90)" text-anchor="middle" font-size="17.7" dy="0.36em">NM</text>
<path d="M216.8,259.6L216.9,259.6L217.6,259.6L218.9,259.6L220.5,259.6L222.0,259.6L223.4,259.6L224.7,259.6L226.0,259.6L227.4,259.6L229.0,259.6L230.7,259.6L232.5,259.6L234.3,259.6L236.0,259.6L237.6,259.6L239.0,259.6L240.3,259.6L241.6,259.6L243.0,259.6L244.5,259.6L246.1,259.6L247.4,259.6L248.1,259.6L248.2,259.6L248.2,319.2L248.1,319.2L247.4,319.2L246.1,319.2L244.5,319.2L243.0,319.2L241.6,319.2L240.3,319.2L239.0,319.2L237.6,319.2L236.0,319.2L234.3,319.2L232.5,319.2L230.7,319.2L229.0,319.2L227.4,319.2L226.0,319.2L224.7,319.2L223.4,319.2L222.0,319.2L220.5,319.2L218.9,319.2L217.6,319.2L216.9,319.2L216.8,319.2Z" fill="#bebebe" fill-opacity="0.5"/>
<path d="M216.8,319.2L216.9,319.2L217.6,319.3L218.9,319.5L220.5,319.8L222.0,320.2L223.4,320.7L224.7,321.4L226.0,322.3L227.4,323.5L229.0,325.0L230.7,326.7L232.5,328.5L234.3,330.3L236.0,332.0L237.6,333.5L239.0,334.7L240.3,335.6L241.6,336.3L243.0,336.8L244.5,337.2L246.1,337.5L247.4,337.7L248.1,337.7L248.2,337.7L248.2,350.1L248.1,350.1L247.4,350.0L246.1,349.8L244.5,349.6L243.0,349.2L241.6,348.6L240.3,347.9L239.0,347.0L237.6,345.8L236.0,344.3L234.3,342.7L232.5,340.8L230.7,339.0L229.0,337.3L227.4,335.9L226.0,334.7L224.7,333.7L223.4,333.0L222.0,332.5L220.5,332.1L218.9,331.8L217.6,331.7L216.9,331.6L216.8,331.6Z" fill="#0000ff" fill-opacity="0.5"/>
<path d="M216.8,331.6L216.9,331.6L217.6,331.7L218.9,331.9L220.5,332.3L222.0,332.9L223.4,333.7L224.7,334.7L226.0,336.0L227.4,337.8L229.0,339.9L230.7,342.3L232.5,344.9L234.3,347.6L236.0,350.0L237.6,352.1L239.0,353.9L240.3,355.2L241.6,356.2L243.0,357.0L244.5,357.5L246.1,358.0L247.4,358.2L248.1,358.3L248.2,358.3L248.2,366.5L248.1,366.5L247.4,366.4L246.1,366.2L244.5,365.8L243.0,365.2L241.6,364.4L240.3,363.4L239.0,362.1L237.6,360.4L236.0,358.2L234.3,355.8L232.5,353.2L230.7,350.5L229.0,348.1L227.4,346.0L226.0,344.3L224.7,342.9L223.4,341.9L222.0,341.1L220.5,340.6L218.9,340.2L217.6,339.9L216.9,339.8L216.8,339.8Z" fill="#ff0000" fill-opacity="0.5"/>
<path d="M216.8,339.8L216.9,339.8L217.6,340.0L218.9,340.3L220.5,341.0L222.0,341.9L223.4,343.0L224.7,344.6L226.0,346.7L227.4,349.3L229.0,352.6L230.7,356.3L232.5,360.4L234.3,364.4L236.0,368.2L237.6,371.4L239.0,374.1L240.3,376.1L241.6,377.7L243.0,378.9L244.5,379.7L246.1,380.4L247.4,380.8L248.1,380.9L248.2,380.9L248.2,383.0L248.1,383.0L247.4,382.8L246.1,382.4L244.5,381.8L243.0,380.9L241.6,379.8L240.3,378.2L239.0,376.1L237.6,373.5L236.0,370.2L234.3,366.5L232.5,362.4L230.7,358.4L229.0,354.6L227.4,351.4L226.0,348.7L224.7,346.6L223.4,345.1L222.0,343.9L220.5,343.0L218.9,342.4L217.6,342.0L216.9,341.9L216.8,341.9Z" fill="#ff00ff" fill-opacity="0.5"/>
<path d="M216.8,341.9L216.9,341.8L217.6,341.8L218.9,341.6L220.5,341.2L222.0,340.7L223.4,340.1L224.7,339.2L226.0,338.1L227.4,336.6L229.0,334.8L230.7,332.8L232.5,330.5L234.3,328.3L236.0,326.3L237.6,324.5L239.0,323.0L240.3,321.9L241.6,321.0L243.0,320.4L244.5,319.9L246.1,319.5L247.4,319.3L248.1,319.2L248.2,319.2L248.2,328.5L248.1,328.5L247.4,328.6L246.1,328.8L244.5,329.1L243.0,329.6L241.6,330.3L240.3,331.1L239.0,332.3L237.6,333.7L236.0,335.5L234.3,337.6L232.5,339.8L230.7,342.0L229.0,344.1L227.4,345.9L226.0,347.3L224.7,348.5L223.4,349.3L222.0,350.0L220.5,350.5L218.9,350.8L217.6,351.0L216.9,351.1L216.8,351.1Z" fill="#bebebe" fill-opacity="0.5"/>
<path d="M216.8,351.1L216.9,351.1L217.6,351.1L218.9,351.1L220.5,351.1L222.0,351.1L223.4,351.0L224.7,351.0L226.0,350.9L227.4,350.9L229.0,350.8L230.7,350.7L232.5,350.6L234.3,350.5L236.0,350.4L237.6,350.3L239.0,350.3L240.3,350.2L241.6,350.2L243.0,350.1L244.5,350.1L246.1,350.1L247.4,350.1L248.1,350.1L248.2,350.1L248.2,355.2L248.1,355.2L247.4,355.2L246.1,355.2L244.5,355.3L243.0,355.3L241.6,355.3L240.3,355.3L239.0,355.4L237.6,355.5L236.0,355.5L234.3,355.6L232.5,355.7L230.7,355.8L229.0,355.9L227.4,356.0L226.0,356.1L224.7,356.1L223.4,356.2L222.0,356.2L220.5,356.2L218.9,356.2L217.6,356.2L216.9,356.3L216.8,356.3Z" fill="#0000ff" fill-opacity="0.5"/>
<path d="M216.8,356.3L216.9,356.3L217.6,356.3L218.9,356.4L220.5,356.5L222.0,356.8L223.4,357.1L224.7,357.4L226.0,358.0L227.4,358.6L229.0,359.4L230.7,360.4L232.5,361.4L234.3,362.4L236.0,363.3L237.6,364.2L239.0,364.8L240.3,365.3L241.6,365.7L243.0,366.0L244.5,366.2L246.1,366.4L247.4,366.5L248.1,366.5L248.2,366.5L248.2,369.6L248.1,369.6L247.4,369.6L246.1,369.5L244.5,369.3L243.0,369.1L241.6,368.8L240.3,368.4L239.0,367.9L237.6,367.2L236.0,366.4L234.3,365.5L232.5,364.5L230.7,363.5L229.0,362.5L227.4,361.7L226.0,361.1L224.7,360.5L223.4,360.1L222.0,359.9L220.5,359.6L218.9,359.5L217.6,359.4L216.9,359.3L216.8,359.3Z" fill="#ff0000" fill-opacity="0.5"/>
<path d="M216.8,359.3L216.9,359.3L217.6,359.4L218.9,359.7L220.5,360.0L222.0,360.5L223.4,361.2L224.7,362.1L226.0,363.3L227.4,364.8L229.0,366.7L230.7,368.8L232.5,371.2L234.3,373.5L236.0,375.7L237.6,377.5L239.0,379.0L240.3,380.2L241.6,381.1L243.0,381.8L244.5,382.3L246.1,382.7L247.4,382.9L248.1,383.0L248.2,383.0L248.2,385.0L248.1,385.0L247.4,384.9L246.1,384.7L244.5,384.4L243.0,383.9L241.6,383.2L240.3,382.3L239.0,381.1L237.6,379.6L236.0,377.7L234.3,375.6L232.5,373.2L230.7,370.9L229.0,368.7L227.4,366.9L226.0,365.3L224.7,364.1L223.4,363.3L222.0,362.6L220.5,362.1L218.9,361.7L217.6,361.5L216.9,361.4L216.8,361.4Z" fill="#ff00ff" fill-opacity="0.5"/>
<path d="M216.8,361.4L216.9,361.4L217.6,361.3L218.9,361.0L220.5,360.4L222.0,359.7L223.4,358.8L224.7,357.6L226.0,355.9L227.4,353.8L229.0,351.2L230.7,348.2L232.5,344.9L234.3,341.7L236.0,338.7L237.6,336.1L239.0,334.0L240.3,332.3L241.6,331.1L243.0,330.1L244.5,329.4L246.1,328.9L247.4,328.6L248.1,328.5L248.2,328.5L248.2,335.7L248.1,335.7L247.4,335.8L246.1,336.1L244.5,336.6L243.0,337.3L241.6,338.3L240.3,339.5L239.0,341.2L237.6,343.3L236.0,345.9L234.3,348.9L232.5,352.1L230.7,355.4L229.0,358.4L227.4,361.0L226.0,363.1L224.7,364.8L223.4,366.0L222.0,366.9L220.5,367.6L218.9,368.2L217.6,368.5L216.9,368.6L216.8,368.6Z" fill="#bebebe" fill-opacity="0.5"/>
<path d="M216.8,368.6L216.9,368.6L217.6,368.5L218.9,368.4L220.5,368.2L222.0,367.9L223.4,367.5L224.7,367.0L226.0,366.4L227.4,365.5L229.0,364.4L230.7,363.2L232.5,361.9L234.3,360.6L236.0,359.4L237.6,358.3L239.0,357.5L240.3,356.8L241.6,356.3L243.0,355.9L244.5,355.6L246.1,355.4L247.4,355.3L248.1,355.2L248.2,355.2L248.2,358.3L248.1,358.3L247.4,358.4L246.1,358.5L244.5,358.7L243.0,359.0L241.6,359.4L240.3,359.9L239.0,360.5L237.6,361.4L236.0,362.5L234.3,363.7L232.5,365.0L230.7,366.3L229.0,367.5L227.4,368.6L226.0,369.4L224.7,370.1L223.4,370.6L222.0,371.0L220.5,371.3L218.9,371.5L217.6,371.6L216.9,371.7L216.8,371.7Z" fill="#0000ff" fill-opacity="0.5"/>
<path d="M216.8,371.7L216.9,371.7L217.6,371.7L218.9,371.6L220.5,371.6L222.0,371.6L223.4,371.5L224.7,371.4L226.0,371.3L227.4,371.2L229.0,371.0L230.7,370.9L232.5,370.6L234.3,370.4L236.0,370.3L237.6,370.1L239.0,370.0L240.3,369.9L241.6,369.8L243.0,369.7L244.5,369.7L246.1,369.6L247.4,369.6L248.1,369.6L248.2,369.6L248.2,378.9L248.1,378.9L247.4,378.9L246.1,378.9L244.5,378.9L243.0,379.0L241.6,379.0L240.3,379.1L239.0,379.2L237.6,379.3L236.0,379.5L234.3,379.7L232.5,379.9L230.7,380.1L229.0,380.3L227.4,380.5L226.0,380.6L224.7,380.7L223.4,380.8L222.0,380.8L220.5,380.9L218.9,380.9L217.6,380.9L216.9,380.9L216.8,380.9Z" fill="#ff0000" fill-opacity="0.5"/>
<path d="M216.8,380.9L216.9,380.9L217.6,380.9L218.9,381.0L220.5,381.0L222.0,381.1L223.4,381.3L224.7,381.4L226.0,381.6L227.4,381.9L229.0,382.2L230.7,382.6L232.5,383.0L234.3,383.4L236.0,383.8L237.6,384.1L239.0,384.4L240.3,384.6L241.6,384.7L243.0,384.8L244.5,384.9L246.1,385.0L247.4,385.0L248.1,385.0L248.2,385.0L248.2,386.1L248.1,386.1L247.4,386.1L246.1,386.0L244.5,386.0L243.0,385.9L241.6,385.7L240.3,385.6L239.0,385.4L237.6,385.1L236.0,384.8L234.3,384.4L232.5,384.0L230.7,383.6L229.0,383.2L227.4,382.9L226.0,382.6L224.7,382.4L223.4,382.3L222.0,382.2L220.5,382.1L218.9,382.0L217.6,382.0L216.9,382.0L216.8,382.0Z" fill="#ff00ff" fill-opacity="0.5"/>
<path d="M216.8,382.0L216.9,381.9L217.6,381.8L218.9,381.3L220.5,380.6L222.0,379.6L223.4,378.3L224.7,376.6L226.0,374.2L227.4,371.3L229.0,367.6L230.7,363.4L232.5,358.8L234.3,354.3L236.0,350.0L237.6,346.4L239.0,343.4L240.3,341.1L241.6,339.3L243.0,338.0L244.5,337.0L246.1,336.3L247.4,335.9L248.1,335.7L248.2,335.7L248.2,337.7L248.1,337.8L247.4,337.9L246.1,338.4L244.5,339.1L243.0,340.1L241.6,341.4L240.3,343.1L239.0,345.5L237.6,348.4L236.0,352.1L234.3,356.3L232.5,360.9L230.7,365.4L229.0,369.7L227.4,373.3L226.0,376.3L224.7,378.6L223.4,380.4L222.0,381.7L220.5,382.7L218.9,383.4L217.6,383.8L216.9,384.0L216.8,384.0Z" fill="#bebebe" fill-opacity="0.5"/>
<path d="M216.8,384.0L216.9,384.0L217.6,384.0L218.9,383.9L220.5,383.9L222.0,383.8L223.4,383.6L224.7,383.4L226.0,383.2L227.4,382.8L229.0,382.4L230.7,382.0L232.5,381.4L234.3,380.9L236.0,380.5L237.6,380.1L239.0,379.7L240.3,379.5L241.6,379.3L243.0,379.1L244.5,379.0L246.1,378.9L247.4,378.9L248.1,378.9L248.2,378.9L248.2,380.9L248.1,380.9L247.4,381.0L246.1,381.0L244.5,381.1L243.0,381.2L241.6,381.3L240.3,381.5L239.0,381.8L237.6,382.1L236.0,382.5L234.3,383.0L232.5,383.5L230.7,384.0L229.0,384.5L227.4,384.9L226.0,385.2L224.7,385.5L223.4,385.7L222.0,385.8L220.5,385.9L218.9,386.0L217.6,386.1L216.9,386.1L216.8,386.1Z" fill="#ff0000" fill-opacity="0.5"/>
<path d="M216.8,386.1L216.9,386.1L217.6,386.1L218.9,386.1L220.5,386.1L222.0,386.1L223.4,386.1L224.7,386.1L226.0,386.1L227.4,386.1L229.0,386.1L230.7,386.1L232.5,386.1L234.3,386.1L236.0,386.1L237.6,386.1L239.0,386.1L240.3,386.1L241.6,386.1L243.0,386.1L244.5,386.1L246.1,386.1L247.4,386.1L248.1,386.1L248.2,386.1L248.2,387.1L248.1,387.1L247.4,387.1L246.1,387.1L244.5,387.1L243.0,387.1L241.6,387.1L240.3,387.1L239.0,387.1L237.6,387.1L236.0,387.1L234.3,387.1L232.5,387.1L230.7,387.1L229.0,387.1L227.4,387.1L226.0,387.1L224.7,387.1L223.4,387.1L222.0,387.1L220.5,387.1L218.9,387.1L217.6,387.1L216.9,387.1L216.8,387.1Z" fill="#ff00ff" fill-opacity="0.5"/>
<path d="M263.8,259.6L263.9,259.6L264.6,259.6L265.9,259.6L267.5,259.6L269.0,259.6L270.4,259.6L271.7,259.6L273.0,259.6L274.4,259.6L276.0,259.6L277.7,259.6L279.5,259.6L281.3,259.6L283.0,259.6L284.6,259.6L286.0,259.6L287.3,259.6L288.6,259.6L290.0,259.6L291.5,259.6L293.1,259.6L294.4,259.6L295.1,259.6L295.2,259.6L295.2,266.8L295.1,266.8L294.4,266.8L293.1,266.8L291.5,266.8L290.0,266.8L288.6,266.8L287.3,266.8L286.0,266.8L284.6,266.8L283.0,266.8L281.3,266.8L279.5,266.8L277.7,266.8L276.0,266.8L274.4,266.8L273.0,266.8L271.7,266.8L270.4,266.8L269.0,266.8L267.5,266.8L265.9,266.8L264.6,266.8L263.9,266.8L263.8,266.8Z" fill="#ff0000" fill-opacity="0.5"/>
<path d="M263.8,266.8L263.9,266.8L264.6,266.8L265.9,266.9L267.5,267.1L269.0,267.3L270.4,267.6L271.7,268.0L273.0,268.5L274.4,269.2L276.0,270.0L277.7,270.9L279.5,271.9L281.3,273.0L283.0,273.9L284.6,274.7L286.0,275.4L287.3,275.9L288.6,276.3L290.0,276.6L291.5,276.8L293.1,276.9L294.4,277.0L295.1,277.1L295.2,277.1L295.2,348.0L295.1,348.0L294.4,348.0L293.1,347.9L291.5,347.7L290.0,347.5L288.6,347.2L287.3,346.8L286.0,346.3L284.6,345.7L283.0,344.8L281.3,343.9L279.5,342.9L277.7,341.9L276.0,340.9L274.4,340.1L273.0,339.5L271.7,338.9L270.4,338.6L269.0,338.3L267.5,338.0L265.9,337.9L264.6,337.8L263.9,337.8L263.8,337.7Z" fill="#ff00ff" fill-opacity="0.5"/>
<path d="M263.8,337.7L263.9,337.8L264.6,337.8L265.9,337.9L267.5,338.0L269.0,338.3L270.4,338.6L271.7,338.9L273.0,339.5L274.4,340.1L276.0,340.9L277.7,341.9L279.5,342.9L281.3,343.9L283.0,344.8L284.6,345.7L286.0,346.3L287.3,346.8L288.6,347.2L290.0,347.5L291.5,347.7L293.1,347.9L294.4,348.0L295.1,348.0L295.2,348.0L295.2,368.6L295.1,368.6L294.4,368.5L293.1,368.5L291.5,368.3L290.0,368.1L288.6,367.8L287.3,367.4L286.0,366.9L284.6,366.2L283.0,365.4L281.3,364.5L279.5,363.5L277.7,362.4L276.0,361.5L274.4,360.7L273.0,360.0L271.7,359.5L270.4,359.1L269.0,358.8L267.5,358.6L265.9,358.4L264.6,358.4L263.9,358.3L263.8,358.3Z" fill="#ff00ff" fill-opacity="0.5"/>
<path d="M263.8,358.3L263.9,358.3L264.6,357.9L265.9,357.1L267.5,355.7L269.0,353.7L270.4,351.1L271.7,347.7L273.0,343.1L274.4,337.2L276.0,329.9L277.7,321.6L279.5,312.6L281.3,303.5L283.0,295.2L284.6,287.9L286.0,282.0L287.3,277.4L288.6,274.0L290.0,271.4L291.5,269.4L293.1,268.0L294.4,267.2L295.1,266.8L295.2,266.8L295.2,277.1L295.1,277.1L294.4,277.5L293.1,278.3L291.5,279.7L290.0,281.7L288.6,284.3L287.3,287.7L286.0,292.3L284.6,298.2L283.0,305.5L281.3,313.8L279.5,322.8L277.7,331.9L276.0,340.2L274.4,347.4L273.0,353.3L271.7,357.9L270.4,361.4L269.0,364.0L267.5,366.0L265.9,367.4L264.6,368.2L263.9,368.5L263.8,368.6Z" fill="#ff0000" fill-opacity="0.5"/>
<path d="M263.8,368.6L263.9,368.6L264.6,368.6L265.9,368.6L267.5,368.6L269.0,368.6L270.4,368.6L271.7,368.6L273.0,368.6L274.4,368.6L276.0,368.6L277.7,368.6L279.5,368.6L281.3,368.6L283.0,368.6L284.6,368.6L286.0,368.6L287.3,368.6L288.6,368.6L290.0,368.6L291.5,368.6L293.1,368.6L294.4,368.6L295.1,368.6L295.2,368.6L295.2,380.9L295.1,380.9L294.4,380.9L293.1,380.9L291.5,380.9L290.0,380.9L288.6,380.9L287.3,380.9L286.0,380.9L284.6,380.9L283.0,380.9L281.3,380.9L279.5,380.9L277.7,380.9L276.0,380.9L274.4,380.9L273.0,380.9L271.7,380.9L270.4,380.9L269.0,380.9L267.5,380.9L265.9,380.9L264.6,380.9L263.9,380.9L263.8,380.9Z" fill="#ff00ff" fill-opacity="0.5"/>
<path d="M263.8,380.9L263.9,380.9L264.6,380.9L265.9,380.9L267.5,380.9L269.0,380.9L270.4,380.9L271.7,380.9L273.0,380.9L274.4,380.9L276.0,380.9L277.7,380.9L279.5,380.9L281.3,380.9L283.0,380.9L284.6,380.9L286.0,380.9L287.3,380.9L288.6,380.9L290.0,380.9L291.5,380.9L293.1,380.9L294.4,380.9L295.1,380.9L295.2,380.9L295.2,387.1L295.1,387.1L294.4,387.1L293.1,387.1L291.5,387.1L290.0,387.1L288.6,387.1L287.3,387.1L286.0,387.1L284.6,387.1L283.0,387.1L281.3,387.1L279.5,387.1L277.7,387.1L276.0,387.1L274.4,387.1L273.0,387.1L271.7,387.1L270.4,387.1L269.0,387.1L267.5,387.1L265.9,387.1L264.6,387.1L263.9,387.1L263.8,387.1Z" fill="#ff00ff" fill-opacity="0.5"/>
<rect x="201.17" y="259.60" width="15.66" height="82.26" fill="#bebebe" stroke="#000" stroke-width="2.1"/>
<rect x="201.17" y="341.86" width="15.66" height="19.54" fill="#0033ff" stroke="#000" stroke-width="2.1"/>
<rect x="201.17" y="361.39" width="15.66" height="20.56" fill="#ff0000" stroke="#000" stroke-width="2.1"/>
<rect x="201.17" y="381.96" width="15.66" height="5.14" fill="#ff2eff" stroke="#000" stroke-width="2.1"/>
<rect x="248.17" y="259.60" width="15.66" height="78.15" fill="#bebebe" stroke="#000" stroke-width="2.1"/>
<rect x="248.17" y="337.75" width="15.66" height="20.56" fill="#0033ff" stroke="#000" stroke-width="2.1"/>
<rect x="248.17" y="358.31" width="15.66" height="22.62" fill="#ff0000" stroke="#000" stroke-width="2.1"/>
<rect x="248.17" y="380.93" width="15.66" height="6.17" fill="#ff2eff" stroke="#000" stroke-width="2.1"/>
<rect x="295.17" y="259.60" width="15.66" height="17.48" fill="#ff0000" stroke="#000" stroke-width="2.1"/>
<rect x="295.17" y="277.08" width="15.66" height="110.02" fill="#ff2eff" stroke="#000" stroke-width="2.1"/>
<line x1="190.0" x2="194.9" y1="259.90" y2="259.90" stroke="#333" stroke-width="2.6"/>
<text x="185.2" y="266.20" text-anchor="end" font-size="17.7">100</text>
<line x1="190.0" x2="194.9" y1="322.90" y2="322.90" stroke="#333" stroke-width="2.6"/>
<text x="186.5" y="329.20" text-anchor="end" font-size="17.7">50</text>
<line x1="190.0" x2="194.9" y1="386.95" y2="386.95" stroke="#333" stroke-width="2.6"/>
<text x="188.5" y="393.25" text-anchor="end" font-size="17.7">0</text>
<text transform="translate(152.2,335.1) rotate(-90)" text-anchor="middle" font-size="17.7">Percentage(%)</text>
<text transform="translate(202.20,394.50) rotate(-45)" text-anchor="end" font-size="17.7" dy="0.72em">morula</text>
<text transform="translate(254.60,394.50) rotate(-45)" text-anchor="end" font-size="17.7" dy="0.72em">ICM</text>
<text transform="translate(301.30,394.80) rotate(-45)" text-anchor="end" font-size="17.7" dy="0.72em">Epi</text>
<path d="M392.8,259.6L392.9,259.6L393.6,259.6L394.9,259.6L396.5,259.6L398.0,259.6L399.4,259.6L400.7,259.6L402.0,259.6L403.4,259.6L405.0,259.6L406.7,259.6L408.5,259.6L410.3,259.6L412.0,259.6L413.6,259.6L415.0,259.6L416.3,259.6L417.6,259.6L419.0,259.6L420.5,259.6L422.1,259.6L423.4,259.6L424.1,259.6L424.2,259.6L424.2,303.8L424.1,303.8L423.4,303.8L422.1,303.8L420.5,303.8L419.0,303.8L417.6,303.8L416.3,303.8L415.0,303.8L413.6,303.8L412.0,303.8L410.3,303.8L408.5,303.8L406.7,303.8L405.0,303.8L403.4,303.8L402.0,303.8L400.7,303.8L399.4,303.8L398.0,303.8L396.5,303.8L394.9,303.8L393.6,303.8L392.9,303.8L392.8,303.8Z" fill="#bebebe" fill-opacity="0.5"/>
<path d="M392.8,303.8L392.9,303.8L393.6,303.9L394.9,304.0L396.5,304.2L398.0,304.4L399.4,304.8L400.7,305.2L402.0,305.9L403.4,306.7L405.0,307.6L406.7,308.8L408.5,310.0L410.3,311.2L412.0,312.3L413.6,313.3L415.0,314.1L416.3,314.7L417.6,315.2L419.0,315.5L420.5,315.8L422.1,316.0L423.4,316.1L424.1,316.1L424.2,316.2L424.2,338.8L424.1,338.8L423.4,338.7L422.1,338.6L420.5,338.4L419.0,338.2L417.6,337.8L416.3,337.3L415.0,336.7L413.6,335.9L412.0,334.9L410.3,333.8L408.5,332.6L406.7,331.4L405.0,330.3L403.4,329.3L402.0,328.5L400.7,327.9L399.4,327.4L398.0,327.1L396.5,326.8L394.9,326.6L393.6,326.5L392.9,326.4L392.8,326.4Z" fill="#0000ff" fill-opacity="0.5"/>
<path d="M392.8,326.4L392.9,326.4L393.6,326.5L394.9,326.7L396.5,327.1L398.0,327.6L399.4,328.2L400.7,329.1L402.0,330.2L403.4,331.7L405.0,333.4L406.7,335.5L408.5,337.7L410.3,340.0L412.0,342.0L413.6,343.8L415.0,345.3L416.3,346.4L417.6,347.3L419.0,347.9L420.5,348.4L422.1,348.8L423.4,349.0L424.1,349.0L424.2,349.1L424.2,360.4L424.1,360.4L423.4,360.3L422.1,360.1L420.5,359.7L419.0,359.2L417.6,358.6L416.3,357.7L415.0,356.6L413.6,355.1L412.0,353.4L410.3,351.3L408.5,349.1L406.7,346.8L405.0,344.8L403.4,343.0L402.0,341.5L400.7,340.4L399.4,339.5L398.0,338.9L396.5,338.4L394.9,338.0L393.6,337.8L392.9,337.8L392.8,337.7Z" fill="#ff0000" fill-opacity="0.5"/>
<path d="M392.8,337.7L392.9,337.8L393.6,337.9L394.9,338.2L396.5,338.8L398.0,339.6L399.4,340.6L400.7,341.9L402.0,343.7L403.4,346.1L405.0,348.9L406.7,352.2L408.5,355.7L410.3,359.3L412.0,362.6L413.6,365.4L415.0,367.7L416.3,369.5L417.6,370.9L419.0,371.9L420.5,372.7L422.1,373.3L423.4,373.6L424.1,373.7L424.2,373.7L424.2,377.8L424.1,377.8L423.4,377.7L422.1,377.4L420.5,376.8L419.0,376.0L417.6,375.0L416.3,373.7L415.0,371.8L413.6,369.5L412.0,366.7L410.3,363.4L408.5,359.9L406.7,356.3L405.0,353.0L403.4,350.2L402.0,347.9L400.7,346.0L399.4,344.7L398.0,343.7L396.5,342.9L394.9,342.3L393.6,342.0L392.9,341.9L392.8,341.9Z" fill="#ff00ff" fill-opacity="0.5"/>
<path d="M392.8,341.9L392.9,341.8L393.6,341.7L394.9,341.4L396.5,340.8L398.0,339.9L399.4,338.9L400.7,337.4L402.0,335.5L403.4,333.1L405.0,330.1L406.7,326.6L408.5,322.8L410.3,319.1L412.0,315.6L413.6,312.6L415.0,310.2L416.3,308.2L417.6,306.8L419.0,305.7L420.5,304.9L422.1,304.3L423.4,304.0L424.1,303.8L424.2,303.8L424.2,312.0L424.1,312.1L423.4,312.2L422.1,312.5L420.5,313.1L419.0,313.9L417.6,315.0L416.3,316.5L415.0,318.4L413.6,320.8L412.0,323.8L410.3,327.3L408.5,331.1L406.7,334.8L405.0,338.3L403.4,341.3L402.0,343.7L400.7,345.7L399.4,347.1L398.0,348.2L396.5,349.0L394.9,349.6L393.6,349.9L392.9,350.1L392.8,350.1Z" fill="#bebebe" fill-opacity="0.5"/>
<path d="M392.8,350.1L392.9,350.1L393.6,350.0L394.9,349.9L396.5,349.8L398.0,349.5L399.4,349.2L400.7,348.8L402.0,348.2L403.4,347.5L405.0,346.6L406.7,345.5L408.5,344.4L410.3,343.3L412.0,342.3L413.6,341.4L415.0,340.7L416.3,340.1L417.6,339.7L419.0,339.3L420.5,339.1L422.1,338.9L423.4,338.8L424.1,338.8L424.2,338.8L424.2,344.9L424.1,344.9L423.4,345.0L422.1,345.1L420.5,345.3L419.0,345.5L417.6,345.8L416.3,346.3L415.0,346.8L413.6,347.6L412.0,348.4L410.3,349.5L408.5,350.6L406.7,351.7L405.0,352.7L403.4,353.6L402.0,354.4L400.7,354.9L399.4,355.4L398.0,355.7L396.5,355.9L394.9,356.1L393.6,356.2L392.9,356.2L392.8,356.3Z" fill="#0000ff" fill-opacity="0.5"/>
<path d="M392.8,356.3L392.9,356.3L393.6,356.3L394.9,356.3L396.5,356.4L398.0,356.5L399.4,356.6L400.7,356.7L402.0,356.9L403.4,357.2L405.0,357.5L406.7,357.9L408.5,358.3L410.3,358.7L412.0,359.1L413.6,359.4L415.0,359.7L416.3,359.9L417.6,360.0L419.0,360.2L420.5,360.2L422.1,360.3L423.4,360.3L424.1,360.4L424.2,360.4L424.2,363.5L424.1,363.4L423.4,363.4L422.1,363.4L420.5,363.3L419.0,363.2L417.6,363.1L416.3,363.0L415.0,362.8L413.6,362.5L412.0,362.2L410.3,361.8L408.5,361.4L406.7,361.0L405.0,360.6L403.4,360.3L402.0,360.0L400.7,359.8L399.4,359.7L398.0,359.5L396.5,359.5L394.9,359.4L393.6,359.4L392.9,359.3L392.8,359.3Z" fill="#ff0000" fill-opacity="0.5"/>
<path d="M392.8,359.3L392.9,359.3L393.6,359.4L394.9,359.6L396.5,359.9L398.0,360.3L399.4,360.8L400.7,361.5L402.0,362.4L403.4,363.6L405.0,365.1L406.7,366.8L408.5,368.6L410.3,370.4L412.0,372.1L413.6,373.6L415.0,374.8L416.3,375.7L417.6,376.4L419.0,376.9L420.5,377.3L422.1,377.6L423.4,377.8L424.1,377.8L424.2,377.8L424.2,379.9L424.1,379.9L423.4,379.8L422.1,379.7L420.5,379.4L419.0,379.0L417.6,378.4L416.3,377.7L415.0,376.8L413.6,375.6L412.0,374.2L410.3,372.5L408.5,370.6L406.7,368.8L405.0,367.1L403.4,365.7L402.0,364.5L400.7,363.5L399.4,362.8L398.0,362.3L396.5,361.9L394.9,361.6L393.6,361.5L392.9,361.4L392.8,361.4Z" fill="#ff00ff" fill-opacity="0.5"/>
<path d="M392.8,361.4L392.9,361.4L393.6,361.2L394.9,360.7L396.5,360.0L398.0,358.9L399.4,357.5L400.7,355.7L402.0,353.2L403.4,350.0L405.0,346.1L406.7,341.6L408.5,336.7L410.3,331.9L412.0,327.3L413.6,323.4L415.0,320.3L416.3,317.8L417.6,315.9L419.0,314.5L420.5,313.5L422.1,312.7L423.4,312.2L424.1,312.1L424.2,312.0L424.2,315.1L424.1,315.1L423.4,315.3L422.1,315.8L420.5,316.5L419.0,317.6L417.6,319.0L416.3,320.9L415.0,323.4L413.6,326.5L412.0,330.4L410.3,334.9L408.5,339.8L406.7,344.7L405.0,349.2L403.4,353.1L402.0,356.3L400.7,358.7L399.4,360.6L398.0,362.0L396.5,363.1L394.9,363.8L393.6,364.3L392.9,364.5L392.8,364.5Z" fill="#bebebe" fill-opacity="0.5"/>
<path d="M392.8,364.5L392.9,364.5L393.6,364.4L394.9,364.2L396.5,363.9L398.0,363.5L399.4,362.9L400.7,362.2L402.0,361.2L403.4,360.0L405.0,358.4L406.7,356.6L408.5,354.7L410.3,352.8L412.0,351.0L413.6,349.5L415.0,348.2L416.3,347.2L417.6,346.5L419.0,345.9L420.5,345.5L422.1,345.2L423.4,345.0L424.1,345.0L424.2,344.9L424.2,348.0L424.1,348.0L423.4,348.1L422.1,348.3L420.5,348.6L419.0,349.0L417.6,349.6L416.3,350.3L415.0,351.3L413.6,352.5L412.0,354.1L410.3,355.9L408.5,357.8L406.7,359.7L405.0,361.5L403.4,363.0L402.0,364.3L400.7,365.3L399.4,366.0L398.0,366.6L396.5,367.0L394.9,367.3L393.6,367.5L392.9,367.6L392.8,367.6Z" fill="#0000ff" fill-opacity="0.5"/>
<path d="M392.8,367.6L392.9,367.6L393.6,367.5L394.9,367.5L396.5,367.4L398.0,367.4L399.4,367.2L400.7,367.1L402.0,366.9L403.4,366.6L405.0,366.3L406.7,365.9L408.5,365.5L410.3,365.1L412.0,364.7L413.6,364.4L415.0,364.1L416.3,363.9L417.6,363.8L419.0,363.7L420.5,363.6L422.1,363.5L423.4,363.5L424.1,363.5L424.2,363.5L424.2,372.7L424.1,372.7L423.4,372.7L422.1,372.8L420.5,372.8L419.0,372.9L417.6,373.0L416.3,373.2L415.0,373.4L413.6,373.7L412.0,374.0L410.3,374.4L408.5,374.8L406.7,375.2L405.0,375.5L403.4,375.9L402.0,376.1L400.7,376.3L399.4,376.5L398.0,376.6L396.5,376.7L394.9,376.8L393.6,376.8L392.9,376.8L392.8,376.8Z" fill="#ff0000" fill-opacity="0.5"/>
<path d="M392.8,376.8L392.9,376.8L393.6,376.8L394.9,376.9L396.5,376.9L398.0,377.0L399.4,377.1L400.7,377.2L402.0,377.3L403.4,377.5L405.0,377.8L406.7,378.1L408.5,378.4L410.3,378.7L412.0,378.9L413.6,379.2L415.0,379.4L416.3,379.5L417.6,379.7L419.0,379.7L420.5,379.8L422.1,379.9L423.4,379.9L424.1,379.9L424.2,379.9L424.2,385.0L424.1,385.0L423.4,385.0L422.1,385.0L420.5,385.0L419.0,384.9L417.6,384.8L416.3,384.7L415.0,384.5L413.6,384.3L412.0,384.1L410.3,383.8L408.5,383.5L406.7,383.2L405.0,382.9L403.4,382.7L402.0,382.5L400.7,382.3L399.4,382.2L398.0,382.1L396.5,382.0L394.9,382.0L393.6,382.0L392.9,382.0L392.8,382.0Z" fill="#ff00ff" fill-opacity="0.5"/>
<path d="M392.8,382.0L392.9,381.9L393.6,381.7L394.9,381.1L396.5,380.0L398.0,378.6L399.4,376.7L400.7,374.2L402.0,370.8L403.4,366.5L405.0,361.2L406.7,355.1L408.5,348.5L410.3,342.0L412.0,335.8L413.6,330.6L415.0,326.3L416.3,322.9L417.6,320.4L419.0,318.5L420.5,317.0L422.1,316.0L423.4,315.4L424.1,315.2L424.2,315.1L424.2,316.2L424.1,316.2L423.4,316.4L422.1,317.0L420.5,318.1L419.0,319.5L417.6,321.4L416.3,323.9L415.0,327.3L413.6,331.6L412.0,336.9L410.3,343.0L408.5,349.6L406.7,356.2L405.0,362.3L403.4,367.5L402.0,371.8L400.7,375.2L399.4,377.7L398.0,379.6L396.5,381.1L394.9,382.1L393.6,382.7L392.9,383.0L392.8,383.0Z" fill="#bebebe" fill-opacity="0.5"/>
<path d="M392.8,383.0L392.9,383.0L393.6,382.8L394.9,382.5L396.5,382.0L398.0,381.2L399.4,380.2L400.7,378.9L402.0,377.2L403.4,374.9L405.0,372.1L406.7,369.0L408.5,365.5L410.3,362.1L412.0,358.9L413.6,356.1L415.0,353.9L416.3,352.1L417.6,350.8L419.0,349.8L420.5,349.0L422.1,348.5L423.4,348.2L424.1,348.0L424.2,348.0L424.2,349.1L424.1,349.1L423.4,349.2L422.1,349.5L420.5,350.1L419.0,350.8L417.6,351.8L416.3,353.1L415.0,354.9L413.6,357.1L412.0,359.9L410.3,363.1L408.5,366.5L406.7,370.0L405.0,373.2L403.4,375.9L402.0,378.2L400.7,379.9L399.4,381.3L398.0,382.3L396.5,383.0L394.9,383.5L393.6,383.9L392.9,384.0L392.8,384.0Z" fill="#0000ff" fill-opacity="0.5"/>
<path d="M392.8,384.0L392.9,384.0L393.6,384.0L394.9,383.9L396.5,383.7L398.0,383.4L399.4,383.1L400.7,382.7L402.0,382.1L403.4,381.4L405.0,380.5L406.7,379.5L408.5,378.4L410.3,377.2L412.0,376.2L413.6,375.3L415.0,374.6L416.3,374.0L417.6,373.6L419.0,373.3L420.5,373.0L422.1,372.9L423.4,372.8L424.1,372.7L424.2,372.7L424.2,373.7L424.1,373.7L423.4,373.8L422.1,373.9L420.5,374.1L419.0,374.3L417.6,374.6L416.3,375.0L415.0,375.6L413.6,376.3L412.0,377.2L410.3,378.3L408.5,379.4L406.7,380.5L405.0,381.5L403.4,382.4L402.0,383.2L400.7,383.7L399.4,384.2L398.0,384.5L396.5,384.7L394.9,384.9L393.6,385.0L392.9,385.0L392.8,385.0Z" fill="#ff0000" fill-opacity="0.5"/>
<path d="M392.8,385.0L392.9,385.0L393.6,385.0L394.9,385.0L396.5,385.0L398.0,385.0L399.4,385.0L400.7,385.0L402.0,385.0L403.4,385.0L405.0,385.0L406.7,385.0L408.5,385.0L410.3,385.0L412.0,385.0L413.6,385.0L415.0,385.0L416.3,385.0L417.6,385.0L419.0,385.0L420.5,385.0L422.1,385.0L423.4,385.0L424.1,385.0L424.2,385.0L424.2,387.1L424.1,387.1L423.4,387.1L422.1,387.1L420.5,387.1L419.0,387.1L417.6,387.1L416.3,387.1L415.0,387.1L413.6,387.1L412.0,387.1L410.3,387.1L408.5,387.1L406.7,387.1L405.0,387.1L403.4,387.1L402.0,387.1L400.7,387.1L399.4,387.1L398.0,387.1L396.5,387.1L394.9,387.1L393.6,387.1L392.9,387.1L392.8,387.1Z" fill="#ff00ff" fill-opacity="0.5"/>
<path d="M439.8,259.6L439.9,259.6L440.6,259.6L441.9,259.6L443.5,259.6L445.0,259.6L446.4,259.6L447.7,259.6L449.0,259.6L450.4,259.6L452.0,259.6L453.7,259.6L455.5,259.6L457.3,259.6L459.0,259.6L460.6,259.6L462.0,259.6L463.3,259.6L464.6,259.6L466.0,259.6L467.5,259.6L469.1,259.6L470.4,259.6L471.1,259.6L471.2,259.6L471.2,264.7L471.1,264.7L470.4,264.7L469.1,264.7L467.5,264.7L466.0,264.7L464.6,264.7L463.3,264.7L462.0,264.7L460.6,264.7L459.0,264.7L457.3,264.7L455.5,264.7L453.7,264.7L452.0,264.7L450.4,264.7L449.0,264.7L447.7,264.7L446.4,264.7L445.0,264.7L443.5,264.7L441.9,264.7L440.6,264.7L439.9,264.7L439.8,264.7Z" fill="#bebebe" fill-opacity="0.5"/>
<path d="M439.8,264.7L439.9,264.7L440.6,264.7L441.9,264.8L443.5,264.8L445.0,264.8L446.4,264.9L447.7,265.0L449.0,265.1L450.4,265.2L452.0,265.4L453.7,265.6L455.5,265.8L457.3,266.0L459.0,266.2L460.6,266.3L462.0,266.5L463.3,266.6L464.6,266.6L466.0,266.7L467.5,266.7L469.1,266.8L470.4,266.8L471.1,266.8L471.2,266.8L471.2,280.2L471.1,280.2L470.4,280.2L469.1,280.1L467.5,280.1L466.0,280.1L464.6,280.0L463.3,279.9L462.0,279.8L460.6,279.7L459.0,279.5L457.3,279.3L455.5,279.1L453.7,278.9L452.0,278.7L450.4,278.6L449.0,278.5L447.7,278.3L446.4,278.3L445.0,278.2L443.5,278.2L441.9,278.1L440.6,278.1L439.9,278.1L439.8,278.1Z" fill="#0000ff" fill-opacity="0.5"/>
<path d="M439.8,278.1L439.9,278.1L440.6,278.2L441.9,278.3L443.5,278.5L445.0,278.8L446.4,279.2L447.7,279.7L449.0,280.3L450.4,281.2L452.0,282.3L453.7,283.5L455.5,284.8L457.3,286.1L459.0,287.3L460.6,288.4L462.0,289.2L463.3,289.9L464.6,290.4L466.0,290.8L467.5,291.1L469.1,291.3L470.4,291.4L471.1,291.5L471.2,291.5L471.2,295.6L471.1,295.6L470.4,295.5L469.1,295.4L467.5,295.2L466.0,294.9L464.6,294.5L463.3,294.0L462.0,293.4L460.6,292.5L459.0,291.4L457.3,290.2L455.5,288.9L453.7,287.6L452.0,286.4L450.4,285.3L449.0,284.4L447.7,283.8L446.4,283.3L445.0,282.9L443.5,282.6L441.9,282.4L440.6,282.3L439.9,282.2L439.8,282.2Z" fill="#ff0000" fill-opacity="0.5"/>
<path d="M439.8,282.2L439.9,282.2L440.6,282.3L441.9,282.5L443.5,282.9L445.0,283.4L446.4,284.0L447.7,284.9L449.0,286.0L450.4,287.4L452.0,289.2L453.7,291.3L455.5,293.5L457.3,295.8L459.0,297.8L460.6,299.6L462.0,301.1L463.3,302.2L464.6,303.1L466.0,303.7L467.5,304.2L469.1,304.5L470.4,304.7L471.1,304.8L471.2,304.8L471.2,338.8L471.1,338.8L470.4,338.7L469.1,338.5L467.5,338.1L466.0,337.6L464.6,337.0L463.3,336.1L462.0,335.0L460.6,333.5L459.0,331.8L457.3,329.7L455.5,327.5L453.7,325.2L452.0,323.2L450.4,321.4L449.0,319.9L447.7,318.8L446.4,317.9L445.0,317.3L443.5,316.8L441.9,316.5L440.6,316.2L439.9,316.2L439.8,316.2Z" fill="#ff00ff" fill-opacity="0.5"/>
<path d="M439.8,316.2L439.9,316.1L440.6,315.9L441.9,315.5L443.5,314.7L445.0,313.6L446.4,312.1L447.7,310.2L449.0,307.6L450.4,304.3L452.0,300.2L453.7,295.5L455.5,290.4L457.3,285.4L459.0,280.7L460.6,276.6L462.0,273.3L463.3,270.7L464.6,268.8L466.0,267.3L467.5,266.2L469.1,265.4L470.4,265.0L471.1,264.8L471.2,264.7L471.2,265.8L471.1,265.8L470.4,266.0L469.1,266.5L467.5,267.2L466.0,268.4L464.6,269.8L463.3,271.8L462.0,274.3L460.6,277.7L459.0,281.7L457.3,286.4L455.5,291.5L453.7,296.5L452.0,301.2L450.4,305.3L449.0,308.6L447.7,311.2L446.4,313.1L445.0,314.6L443.5,315.7L441.9,316.5L440.6,317.0L439.9,317.2L439.8,317.2Z" fill="#bebebe" fill-opacity="0.5"/>
<path d="M439.8,317.2L439.9,317.2L440.6,317.0L441.9,316.7L443.5,316.1L445.0,315.3L446.4,314.3L447.7,312.9L449.0,311.0L450.4,308.6L452.0,305.7L453.7,302.3L455.5,298.7L457.3,295.0L459.0,291.6L460.6,288.7L462.0,286.3L463.3,284.5L464.6,283.1L466.0,282.0L467.5,281.2L469.1,280.7L470.4,280.3L471.1,280.2L471.2,280.2L471.2,289.4L471.1,289.4L470.4,289.6L469.1,289.9L467.5,290.5L466.0,291.3L464.6,292.3L463.3,293.7L462.0,295.6L460.6,298.0L459.0,300.9L457.3,304.3L455.5,307.9L453.7,311.6L452.0,315.0L450.4,317.9L449.0,320.3L447.7,322.1L446.4,323.5L445.0,324.6L443.5,325.4L441.9,325.9L440.6,326.3L439.9,326.4L439.8,326.4Z" fill="#0000ff" fill-opacity="0.5"/>
<path d="M439.8,326.4L439.9,326.4L440.6,326.3L441.9,326.0L443.5,325.5L445.0,324.9L446.4,324.0L447.7,322.8L449.0,321.3L450.4,319.3L452.0,316.9L453.7,314.1L455.5,311.0L457.3,308.0L459.0,305.2L460.6,302.7L462.0,300.7L463.3,299.2L464.6,298.0L466.0,297.1L467.5,296.5L469.1,296.0L470.4,295.7L471.1,295.6L471.2,295.6L471.2,298.7L471.1,298.7L470.4,298.8L469.1,299.1L467.5,299.6L466.0,300.2L464.6,301.1L463.3,302.3L462.0,303.8L460.6,305.8L459.0,308.2L457.3,311.1L455.5,314.1L453.7,317.1L452.0,320.0L450.4,322.4L449.0,324.4L447.7,325.9L446.4,327.1L445.0,328.0L443.5,328.6L441.9,329.1L440.6,329.4L439.9,329.5L439.8,329.5Z" fill="#ff0000" fill-opacity="0.5"/>
<path d="M439.8,329.5L439.9,329.5L440.6,329.6L441.9,329.6L443.5,329.8L445.0,330.0L446.4,330.2L447.7,330.6L449.0,331.1L450.4,331.7L452.0,332.4L453.7,333.2L455.5,334.1L457.3,335.1L459.0,335.9L460.6,336.6L462.0,337.2L463.3,337.7L464.6,338.0L466.0,338.3L467.5,338.5L469.1,338.7L470.4,338.7L471.1,338.8L471.2,338.8L471.2,358.3L471.1,358.3L470.4,358.3L469.1,358.2L467.5,358.0L466.0,357.8L464.6,357.6L463.3,357.2L462.0,356.8L460.6,356.2L459.0,355.4L457.3,354.6L455.5,353.7L453.7,352.8L452.0,351.9L450.4,351.2L449.0,350.6L447.7,350.1L446.4,349.8L445.0,349.5L443.5,349.3L441.9,349.2L440.6,349.1L439.9,349.1L439.8,349.1Z" fill="#ff00ff" fill-opacity="0.5"/>
<path d="M439.8,349.1L439.9,349.0L440.6,348.7L441.9,347.9L443.5,346.7L445.0,344.9L446.4,342.5L447.7,339.4L449.0,335.2L450.4,329.8L452.0,323.2L453.7,315.6L455.5,307.4L457.3,299.2L459.0,291.6L460.6,285.0L462.0,279.7L463.3,275.5L464.6,272.3L466.0,270.0L467.5,268.2L469.1,266.9L470.4,266.1L471.1,265.8L471.2,265.8L471.2,266.8L471.1,266.8L470.4,267.1L469.1,267.9L467.5,269.2L466.0,271.0L464.6,273.3L463.3,276.5L462.0,280.7L460.6,286.0L459.0,292.6L457.3,300.2L455.5,308.4L453.7,316.7L452.0,324.3L450.4,330.8L449.0,336.2L447.7,340.4L446.4,343.5L445.0,345.9L443.5,347.7L441.9,349.0L440.6,349.7L439.9,350.0L439.8,350.1Z" fill="#bebebe" fill-opacity="0.5"/>
<path d="M439.8,350.1L439.9,350.1L440.6,349.8L441.9,349.3L443.5,348.3L445.0,347.0L446.4,345.3L447.7,343.0L449.0,340.0L450.4,336.1L452.0,331.3L453.7,325.7L455.5,319.8L457.3,313.8L459.0,308.2L460.6,303.4L462.0,299.5L463.3,296.5L464.6,294.2L466.0,292.5L467.5,291.2L469.1,290.2L470.4,289.7L471.1,289.4L471.2,289.4L471.2,290.4L471.1,290.5L470.4,290.7L469.1,291.3L467.5,292.2L466.0,293.5L464.6,295.2L463.3,297.5L462.0,300.6L460.6,304.5L459.0,309.3L457.3,314.8L455.5,320.8L453.7,326.8L452.0,332.3L450.4,337.1L449.0,341.0L447.7,344.1L446.4,346.3L445.0,348.1L443.5,349.4L441.9,350.3L440.6,350.9L439.9,351.1L439.8,351.1Z" fill="#0000ff" fill-opacity="0.5"/>
<path d="M439.8,351.1L439.9,351.1L440.6,350.9L441.9,350.4L443.5,349.6L445.0,348.5L446.4,347.0L447.7,345.0L449.0,342.4L450.4,339.0L452.0,334.9L453.7,330.1L455.5,324.9L457.3,319.7L459.0,314.9L460.6,310.8L462.0,307.4L463.3,304.8L464.6,302.8L466.0,301.3L467.5,300.2L469.1,299.4L470.4,298.9L471.1,298.7L471.2,298.7L471.2,304.8L471.1,304.9L470.4,305.1L469.1,305.5L467.5,306.3L466.0,307.5L464.6,309.0L463.3,310.9L462.0,313.6L460.6,317.0L459.0,321.1L457.3,325.9L455.5,331.1L453.7,336.2L452.0,341.0L450.4,345.2L449.0,348.5L447.7,351.2L446.4,353.2L445.0,354.6L443.5,355.8L441.9,356.6L440.6,357.1L439.9,357.3L439.8,357.3Z" fill="#ff0000" fill-opacity="0.5"/>
<path d="M439.8,357.3L439.9,357.3L440.6,357.3L441.9,357.3L443.5,357.3L445.0,357.3L446.4,357.4L447.7,357.4L449.0,357.5L450.4,357.5L452.0,357.6L453.7,357.7L455.5,357.8L457.3,357.9L459.0,358.0L460.6,358.1L462.0,358.1L463.3,358.2L464.6,358.2L466.0,358.3L467.5,358.3L469.1,358.3L470.4,358.3L471.1,358.3L471.2,358.3L471.2,374.8L471.1,374.8L470.4,374.8L469.1,374.7L467.5,374.7L466.0,374.7L464.6,374.7L463.3,374.6L462.0,374.6L460.6,374.5L459.0,374.4L457.3,374.3L455.5,374.2L453.7,374.1L452.0,374.1L450.4,374.0L449.0,373.9L447.7,373.9L446.4,373.8L445.0,373.8L443.5,373.8L441.9,373.7L440.6,373.7L439.9,373.7L439.8,373.7Z" fill="#ff00ff" fill-opacity="0.5"/>
<path d="M439.8,373.7L439.9,373.7L440.6,373.4L441.9,372.6L443.5,371.3L445.0,369.6L446.4,367.2L447.7,364.0L449.0,359.9L450.4,354.5L452.0,347.9L453.7,340.3L455.5,332.1L457.3,323.9L459.0,316.3L460.6,309.7L462.0,304.3L463.3,300.1L464.6,297.0L466.0,294.6L467.5,292.8L469.1,291.6L470.4,290.8L471.1,290.5L471.2,290.4L471.2,291.5L471.1,291.5L470.4,291.8L469.1,292.6L467.5,293.9L466.0,295.7L464.6,298.0L463.3,301.2L462.0,305.4L460.6,310.7L459.0,317.3L457.3,324.9L455.5,333.1L453.7,341.3L452.0,348.9L450.4,355.5L449.0,360.9L447.7,365.1L446.4,368.2L445.0,370.6L443.5,372.4L441.9,373.7L440.6,374.4L439.9,374.7L439.8,374.8Z" fill="#0000ff" fill-opacity="0.5"/>
<path d="M439.8,374.8L439.9,374.8L440.6,374.8L441.9,374.8L443.5,374.8L445.0,374.8L446.4,374.8L447.7,374.8L449.0,374.8L450.4,374.8L452.0,374.8L453.7,374.8L455.5,374.8L457.3,374.8L459.0,374.8L460.6,374.8L462.0,374.8L463.3,374.8L464.6,374.8L466.0,374.8L467.5,374.8L469.1,374.8L470.4,374.8L471.1,374.8L471.2,374.8L471.2,387.1L471.1,387.1L470.4,387.1L469.1,387.1L467.5,387.1L466.0,387.1L464.6,387.1L463.3,387.1L462.0,387.1L460.6,387.1L459.0,387.1L457.3,387.1L455.5,387.1L453.7,387.1L452.0,387.1L450.4,387.1L449.0,387.1L447.7,387.1L446.4,387.1L445.0,387.1L443.5,387.1L441.9,387.1L440.6,387.1L439.9,387.1L439.8,387.1Z" fill="#ff00ff" fill-opacity="0.5"/>
<rect x="377.17" y="259.60" width="15.66" height="82.26" fill="#bebebe" stroke="#000" stroke-width="2.1"/>
<rect x="377.17" y="341.86" width="15.66" height="19.54" fill="#0033ff" stroke="#000" stroke-width="2.1"/>
<rect x="377.17" y="361.39" width="15.66" height="20.56" fill="#ff0000" stroke="#000" stroke-width="2.1"/>
<rect x="377.17" y="381.96" width="15.66" height="5.14" fill="#ff2eff" stroke="#000" stroke-width="2.1"/>
<rect x="424.17" y="259.60" width="15.66" height="56.55" fill="#bebebe" stroke="#000" stroke-width="2.1"/>
<rect x="424.17" y="316.15" width="15.66" height="32.90" fill="#0033ff" stroke="#000" stroke-width="2.1"/>
<rect x="424.17" y="349.06" width="15.66" height="24.68" fill="#ff0000" stroke="#000" stroke-width="2.1"/>
<rect x="424.17" y="373.73" width="15.66" height="13.37" fill="#ff2eff" stroke="#000" stroke-width="2.1"/>
<rect x="471.17" y="259.60" width="15.66" height="7.20" fill="#bebebe" stroke="#000" stroke-width="2.1"/>
<rect x="471.17" y="266.80" width="15.66" height="24.68" fill="#0033ff" stroke="#000" stroke-width="2.1"/>
<rect x="471.17" y="291.48" width="15.66" height="13.37" fill="#ff0000" stroke="#000" stroke-width="2.1"/>
<rect x="471.17" y="304.84" width="15.66" height="82.26" fill="#ff2eff" stroke="#000" stroke-width="2.1"/>
<line x1="366.0" x2="370.9" y1="259.90" y2="259.90" stroke="#333" stroke-width="2.6"/>
<text x="361.2" y="266.20" text-anchor="end" font-size="17.7">100</text>
<line x1="366.0" x2="370.9" y1="322.90" y2="322.90" stroke="#333" stroke-width="2.6"/>
<text x="362.5" y="329.20" text-anchor="end" font-size="17.7">50</text>
<line x1="366.0" x2="370.9" y1="386.95" y2="386.95" stroke="#333" stroke-width="2.6"/>
<text x="364.5" y="393.25" text-anchor="end" font-size="17.7">0</text>
<text transform="translate(378.20,394.50) rotate(-45)" text-anchor="end" font-size="17.7" dy="0.72em">morula</text>
<text transform="translate(429.00,393.70) rotate(-45)" text-anchor="end" font-size="17.7" dy="0.72em">TE</text>
<text transform="translate(474.40,393.70) rotate(-45)" text-anchor="end" font-size="17.7" dy="0.72em">ExE</text>
<text transform="translate(500,327.5) rotate(90)" text-anchor="middle" font-size="17.7" dy="0.36em">IVF</text>
<rect x="943.1" y="92.05" width="87.0" height="13.7" fill="#f462e1" stroke="#ec4fd6" stroke-width="0.5"/>
<text x="928.7" y="107.0" text-anchor="end" font-size="17.7">pattern specification process(22)</text>
<rect x="943.1" y="120.10" width="66.8" height="13.7" fill="#f462e1" stroke="#ec4fd6" stroke-width="0.5"/>
<text x="928.7" y="135.1" text-anchor="end" font-size="17.7">response to leukemia inhibitory factor(16)</text>
<rect x="942.1" y="147.00" width="43.7" height="13.7" fill="#f462e1" stroke="#ec4fd6" stroke-width="0.5"/>
<text x="928.7" y="162.0" text-anchor="end" font-size="17.7">response to forskolin(7)</text>
<rect x="942.1" y="174.05" width="42.7" height="13.7" fill="#f462e1" stroke="#ec4fd6" stroke-width="0.5"/>
<text x="928.7" y="189.1" text-anchor="end" font-size="17.7">cell fate specification(8)</text>
<rect x="942.1" y="202.00" width="38.8" height="13.7" fill="#f462e1" stroke="#ec4fd6" stroke-width="0.5"/>
<text x="928.7" y="217.0" text-anchor="end" font-size="17.7">stem cell differentiation(10)</text>
<rect x="943.0" y="229.05" width="35.9" height="13.7" fill="#f462e1" stroke="#ec4fd6" stroke-width="0.5"/>
<text x="928.7" y="244.1" text-anchor="end" font-size="17.7">appendage development(9)</text>
<rect x="943.0" y="255.95" width="33.9" height="13.7" fill="#f462e1" stroke="#ec4fd6" stroke-width="0.5"/>
<text x="928.7" y="270.9" text-anchor="end" font-size="17.7">positive regulation of synaptic transmission(11)</text>
<rect x="943.0" y="285.00" width="26.8" height="13.7" fill="#f462e1" stroke="#ec4fd6" stroke-width="0.5"/>
<text x="928.7" y="300.0" text-anchor="end" font-size="17.7">positive regulation of neuron differentiation(11)</text>
<rect x="942.0" y="312.00" width="25.8" height="13.7" fill="#f462e1" stroke="#ec4fd6" stroke-width="0.5"/>
<text x="928.7" y="327.0" text-anchor="end" font-size="17.7">respiratory system development(8)</text>
<path d="M943,355V345.6H1014.3V355M966.6,345.6V355M990.4,345.6V355" fill="none" stroke="#000" stroke-width="1.1"/>
<text x="939.5" y="374.5" text-anchor="middle" font-size="17.7">0</text>
<text x="964.5" y="374.5" text-anchor="middle" font-size="17.7">4</text>
<text x="988.5" y="374.5" text-anchor="middle" font-size="17.7">8</text>
<text x="1012.1" y="374.5" text-anchor="middle" font-size="17.7">12</text>
<text x="938.8" y="401.6" text-anchor="middle" font-size="17.7">−log10(Pvalue)</text>
</svg>
</body></html>
